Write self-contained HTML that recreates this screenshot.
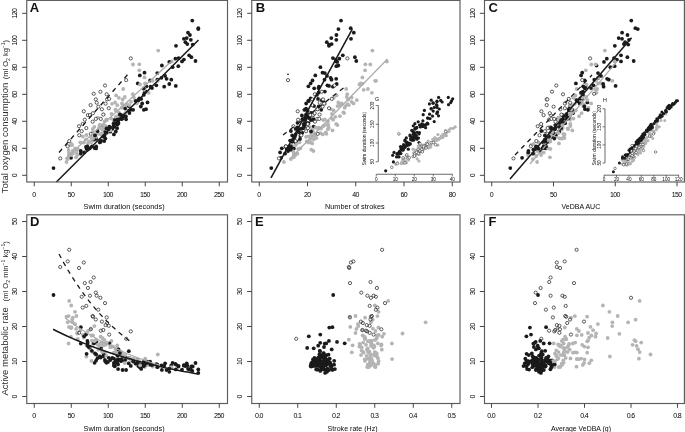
<!DOCTYPE html>
<html><head><meta charset="utf-8"><title>Figure</title>
<style>html,body{margin:0;padding:0;background:#fff}svg{display:block;will-change:transform}text{font-family:"Liberation Sans",sans-serif}</style>
</head><body>
<svg width="685" height="432" viewBox="0 0 685 432" font-family="Liberation Sans, sans-serif">
<rect width="685" height="432" fill="#fff"/>
<g fill="#b4b4b4">
<circle cx="113.8" cy="119.7" r="1.9"/><circle cx="75.1" cy="149.6" r="1.9"/>
</g>
<g fill="#1a1a1a">
<circle cx="187.3" cy="44.1" r="1.9"/><circle cx="96.1" cy="148.4" r="1.9"/><circle cx="71.0" cy="157.8" r="1.9"/>
</g>
<g fill="#b4b4b4">
<circle cx="69.2" cy="153.7" r="1.9"/><circle cx="111.5" cy="113.9" r="1.9"/><circle cx="72.1" cy="145.0" r="1.9"/><circle cx="101.3" cy="134.4" r="1.9"/>
</g>
<g fill="#1a1a1a">
<circle cx="104.5" cy="135.7" r="1.9"/><circle cx="161.4" cy="77.8" r="1.9"/>
</g>
<g fill="#b4b4b4">
<circle cx="72.9" cy="153.5" r="1.9"/>
</g>
<g fill="#1a1a1a">
<circle cx="147.5" cy="102.4" r="1.9"/>
</g>
<g fill="#b4b4b4">
<circle cx="68.6" cy="150.1" r="1.9"/><circle cx="116.1" cy="95.4" r="1.9"/><circle cx="69.0" cy="152.6" r="1.9"/><circle cx="122.0" cy="103.5" r="1.9"/><circle cx="94.4" cy="126.8" r="1.9"/><circle cx="112.0" cy="103.8" r="1.9"/>
</g>
<g fill="#1a1a1a">
<circle cx="146.4" cy="86.3" r="1.9"/><circle cx="128.8" cy="111.0" r="1.9"/><circle cx="99.8" cy="142.4" r="1.9"/>
</g>
<g fill="#b4b4b4">
<circle cx="97.0" cy="133.5" r="1.9"/><circle cx="82.8" cy="136.5" r="1.9"/><circle cx="70.9" cy="145.2" r="1.9"/>
</g>
<g fill="#1a1a1a">
<circle cx="195.5" cy="61.0" r="1.9"/><circle cx="130.8" cy="109.7" r="1.9"/><circle cx="117.5" cy="124.5" r="1.9"/>
</g>
<g fill="#b4b4b4">
<circle cx="76.1" cy="157.3" r="1.9"/><circle cx="91.9" cy="138.3" r="1.9"/><circle cx="77.3" cy="155.0" r="1.9"/>
</g>
<g fill="#1a1a1a">
<circle cx="114.8" cy="119.9" r="1.9"/>
</g>
<g fill="#b4b4b4">
<circle cx="83.9" cy="142.5" r="1.9"/>
</g>
<g fill="#1a1a1a">
<circle cx="106.7" cy="132.8" r="1.9"/>
</g>
<g fill="#b4b4b4">
<circle cx="103.7" cy="129.2" r="1.9"/>
</g>
<g fill="#1a1a1a">
<circle cx="144.5" cy="72.7" r="1.9"/><circle cx="123.8" cy="115.5" r="1.9"/><circle cx="87.4" cy="149.7" r="1.9"/><circle cx="96.1" cy="138.9" r="1.9"/>
</g>
<g fill="#b4b4b4">
<circle cx="66.5" cy="162.0" r="1.9"/><circle cx="125.3" cy="113.1" r="1.9"/><circle cx="96.0" cy="136.8" r="1.9"/>
</g>
<g fill="#1a1a1a">
<circle cx="89.8" cy="148.3" r="1.9"/><circle cx="198.3" cy="29.1" r="1.9"/><circle cx="116.3" cy="123.5" r="1.9"/>
</g>
<g fill="#b4b4b4">
<circle cx="115.8" cy="116.8" r="1.9"/><circle cx="144.7" cy="89.0" r="1.9"/>
</g>
<g fill="#1a1a1a">
<circle cx="84.1" cy="152.4" r="1.9"/>
</g>
<g fill="#b4b4b4">
<circle cx="99.1" cy="127.7" r="1.9"/><circle cx="132.8" cy="94.2" r="1.9"/><circle cx="117.3" cy="105.2" r="1.9"/>
</g>
<g fill="#1a1a1a">
<circle cx="128.7" cy="106.1" r="1.9"/><circle cx="198.3" cy="28.2" r="1.9"/>
</g>
<g fill="#b4b4b4">
<circle cx="145.2" cy="83.6" r="1.9"/>
</g>
<g fill="#1a1a1a">
<circle cx="145.9" cy="91.6" r="1.9"/>
</g>
<g fill="#b4b4b4">
<circle cx="88.0" cy="143.4" r="1.9"/>
</g>
<g fill="#1a1a1a">
<circle cx="175.4" cy="58.7" r="1.9"/>
</g>
<g fill="#b4b4b4">
<circle cx="86.4" cy="135.0" r="1.9"/><circle cx="158.2" cy="50.6" r="1.9"/><circle cx="90.8" cy="136.6" r="1.9"/><circle cx="72.7" cy="151.0" r="1.9"/>
</g>
<g fill="#1a1a1a">
<circle cx="141.2" cy="98.9" r="1.9"/><circle cx="94.6" cy="148.0" r="1.9"/><circle cx="112.3" cy="128.9" r="1.9"/><circle cx="178.6" cy="58.1" r="1.9"/><circle cx="137.4" cy="101.0" r="1.9"/><circle cx="101.1" cy="140.6" r="1.9"/><circle cx="144.5" cy="92.7" r="1.9"/>
</g>
<g fill="#b4b4b4">
<circle cx="99.6" cy="124.9" r="1.9"/><circle cx="145.2" cy="83.5" r="1.9"/><circle cx="136.8" cy="103.4" r="1.9"/><circle cx="113.2" cy="123.9" r="1.9"/><circle cx="104.5" cy="121.3" r="1.9"/>
</g>
<g fill="#1a1a1a">
<circle cx="182.0" cy="61.4" r="1.9"/><circle cx="118.0" cy="117.9" r="1.9"/><circle cx="110.3" cy="131.7" r="1.9"/>
</g>
<g fill="#b4b4b4">
<circle cx="121.6" cy="107.8" r="1.9"/><circle cx="123.2" cy="89.0" r="1.9"/>
</g>
<g fill="#1a1a1a">
<circle cx="169.3" cy="84.0" r="1.9"/><circle cx="113.8" cy="123.2" r="1.9"/><circle cx="118.2" cy="122.8" r="1.9"/><circle cx="113.9" cy="134.4" r="1.9"/><circle cx="191.4" cy="57.2" r="1.9"/>
</g>
<g fill="#b4b4b4">
<circle cx="144.5" cy="77.4" r="1.9"/>
</g>
<g fill="#1a1a1a">
<circle cx="190.8" cy="39.8" r="1.9"/><circle cx="104.9" cy="132.2" r="1.9"/><circle cx="103.3" cy="127.5" r="1.9"/>
</g>
<g fill="#b4b4b4">
<circle cx="118.9" cy="97.8" r="1.9"/>
</g>
<g fill="#1a1a1a">
<circle cx="143.8" cy="94.9" r="1.9"/><circle cx="86.6" cy="148.7" r="1.9"/>
</g>
<g fill="#b4b4b4">
<circle cx="92.8" cy="128.9" r="1.9"/><circle cx="75.0" cy="148.3" r="1.9"/>
</g>
<g fill="#1a1a1a">
<circle cx="125.9" cy="116.5" r="1.9"/><circle cx="164.2" cy="86.7" r="1.9"/>
</g>
<g fill="#b4b4b4">
<circle cx="99.4" cy="133.8" r="1.9"/>
</g>
<g fill="#1a1a1a">
<circle cx="122.6" cy="118.1" r="1.9"/>
</g>
<g fill="#b4b4b4">
<circle cx="104.7" cy="127.9" r="1.9"/>
</g>
<g fill="#1a1a1a">
<circle cx="172.6" cy="67.2" r="1.9"/><circle cx="156.3" cy="85.3" r="1.9"/>
</g>
<g fill="#b4b4b4">
<circle cx="127.1" cy="104.2" r="1.9"/>
</g>
<g fill="#1a1a1a">
<circle cx="109.3" cy="126.7" r="1.9"/><circle cx="157.3" cy="73.1" r="1.9"/>
</g>
<g fill="#b4b4b4">
<circle cx="92.7" cy="132.0" r="1.9"/><circle cx="101.7" cy="128.5" r="1.9"/><circle cx="123.0" cy="106.1" r="1.9"/>
</g>
<g fill="#1a1a1a">
<circle cx="183.9" cy="59.6" r="1.9"/><circle cx="122.9" cy="116.9" r="1.9"/>
</g>
<g fill="#b4b4b4">
<circle cx="133.0" cy="64.5" r="1.9"/><circle cx="105.4" cy="126.0" r="1.9"/>
</g>
<g fill="#1a1a1a">
<circle cx="104.2" cy="141.1" r="1.9"/>
</g>
<g fill="#b4b4b4">
<circle cx="80.3" cy="142.3" r="1.9"/><circle cx="117.2" cy="116.2" r="1.9"/><circle cx="102.3" cy="129.5" r="1.9"/>
</g>
<g fill="#1a1a1a">
<circle cx="165.1" cy="75.9" r="1.9"/>
</g>
<g fill="#b4b4b4">
<circle cx="98.3" cy="132.5" r="1.9"/><circle cx="125.1" cy="106.1" r="1.9"/>
</g>
<g fill="#1a1a1a">
<circle cx="176.0" cy="45.8" r="1.9"/>
</g>
<g fill="#b4b4b4">
<circle cx="144.0" cy="89.8" r="1.9"/><circle cx="91.1" cy="141.7" r="1.9"/>
</g>
<g fill="#1a1a1a">
<circle cx="171.3" cy="79.7" r="1.9"/>
</g>
<g fill="#b4b4b4">
<circle cx="71.2" cy="155.1" r="1.9"/><circle cx="103.6" cy="114.3" r="1.9"/>
</g>
<g fill="#1a1a1a">
<circle cx="118.1" cy="119.9" r="1.9"/>
</g>
<g fill="#b4b4b4">
<circle cx="106.8" cy="120.0" r="1.9"/><circle cx="139.3" cy="70.3" r="1.9"/>
</g>
<g fill="#1a1a1a">
<circle cx="150.1" cy="80.5" r="1.9"/><circle cx="157.3" cy="79.7" r="1.9"/>
</g>
<g fill="#b4b4b4">
<circle cx="77.8" cy="148.9" r="1.9"/>
</g>
<g fill="#1a1a1a">
<circle cx="183.9" cy="38.8" r="1.9"/><circle cx="106.5" cy="128.5" r="1.9"/>
</g>
<g fill="#b4b4b4">
<circle cx="171.7" cy="61.5" r="1.9"/><circle cx="137.3" cy="100.1" r="1.9"/>
</g>
<g fill="#1a1a1a">
<circle cx="129.4" cy="113.0" r="1.9"/><circle cx="189.9" cy="35.0" r="1.9"/>
</g>
<g fill="#b4b4b4">
<circle cx="131.0" cy="101.8" r="1.9"/><circle cx="67.7" cy="159.1" r="1.9"/><circle cx="122.7" cy="99.5" r="1.9"/>
</g>
<g fill="#1a1a1a">
<circle cx="94.0" cy="139.7" r="1.9"/><circle cx="161.9" cy="65.5" r="1.9"/><circle cx="115.8" cy="131.5" r="1.9"/>
</g>
<g fill="#b4b4b4">
<circle cx="97.7" cy="117.6" r="1.9"/><circle cx="148.7" cy="92.8" r="1.9"/>
</g>
<g fill="#1a1a1a">
<circle cx="118.1" cy="123.3" r="1.9"/>
</g>
<g fill="#b4b4b4">
<circle cx="85.8" cy="139.6" r="1.9"/><circle cx="118.8" cy="112.3" r="1.9"/>
</g>
<g fill="#1a1a1a">
<circle cx="114.5" cy="126.8" r="1.9"/><circle cx="116.8" cy="120.0" r="1.9"/><circle cx="150.5" cy="86.7" r="1.9"/>
</g>
<g fill="#b4b4b4">
<circle cx="115.1" cy="102.5" r="1.9"/><circle cx="94.3" cy="135.1" r="1.9"/><circle cx="129.4" cy="105.1" r="1.9"/>
</g>
<g fill="#1a1a1a">
<circle cx="105.4" cy="138.6" r="1.9"/>
</g>
<g fill="#b4b4b4">
<circle cx="152.7" cy="80.8" r="1.9"/>
</g>
<g fill="#1a1a1a">
<circle cx="135.5" cy="100.8" r="1.9"/><circle cx="97.5" cy="131.0" r="1.9"/><circle cx="188.0" cy="32.7" r="1.9"/><circle cx="125.2" cy="108.6" r="1.9"/><circle cx="152.0" cy="88.1" r="1.9"/>
</g>
<g fill="#b4b4b4">
<circle cx="77.2" cy="149.7" r="1.9"/>
</g>
<g fill="#1a1a1a">
<circle cx="119.9" cy="114.4" r="1.9"/>
</g>
<g fill="#b4b4b4">
<circle cx="111.2" cy="118.6" r="1.9"/>
</g>
<g fill="#1a1a1a">
<circle cx="166.6" cy="78.8" r="1.9"/><circle cx="186.7" cy="38.1" r="1.9"/><circle cx="138.4" cy="100.2" r="1.9"/><circle cx="80.8" cy="151.0" r="1.9"/><circle cx="192.7" cy="44.6" r="1.9"/><circle cx="143.8" cy="109.8" r="1.9"/>
</g>
<g fill="#b4b4b4">
<circle cx="100.6" cy="124.8" r="1.9"/>
</g>
<g fill="#1a1a1a">
<circle cx="139.8" cy="75.4" r="1.9"/><circle cx="108.0" cy="128.9" r="1.9"/>
</g>
<g fill="#b4b4b4">
<circle cx="88.9" cy="141.5" r="1.9"/><circle cx="100.9" cy="127.5" r="1.9"/><circle cx="76.4" cy="152.4" r="1.9"/><circle cx="71.3" cy="143.9" r="1.9"/>
</g>
<g fill="#1a1a1a">
<circle cx="189.1" cy="55.3" r="1.9"/><circle cx="103.4" cy="136.7" r="1.9"/><circle cx="133.1" cy="109.8" r="1.9"/><circle cx="185.4" cy="42.2" r="1.9"/><circle cx="87.7" cy="149.0" r="1.9"/><circle cx="113.9" cy="125.1" r="1.9"/><circle cx="139.3" cy="98.5" r="1.9"/>
</g>
<g fill="#b4b4b4">
<circle cx="133.9" cy="97.6" r="1.9"/><circle cx="110.3" cy="130.4" r="1.9"/><circle cx="139.3" cy="64.3" r="1.9"/><circle cx="106.3" cy="119.5" r="1.9"/>
</g>
<g fill="#1a1a1a">
<circle cx="86.0" cy="147.0" r="1.9"/>
</g>
<g fill="#b4b4b4">
<circle cx="68.7" cy="156.0" r="1.9"/>
</g>
<g fill="#1a1a1a">
<circle cx="53.5" cy="168.1" r="1.9"/><circle cx="121.0" cy="115.0" r="1.9"/><circle cx="140.8" cy="106.5" r="1.9"/><circle cx="91.9" cy="146.4" r="1.9"/>
</g>
<g fill="#b4b4b4">
<circle cx="115.7" cy="110.5" r="1.9"/>
</g>
<g fill="#1a1a1a">
<circle cx="175.8" cy="85.9" r="1.9"/><circle cx="143.6" cy="88.3" r="1.9"/><circle cx="121.6" cy="119.2" r="1.9"/><circle cx="142.2" cy="103.5" r="1.9"/>
</g>
<g fill="#b4b4b4">
<circle cx="91.4" cy="142.1" r="1.9"/>
</g>
<g fill="#1a1a1a">
<circle cx="118.5" cy="120.1" r="1.9"/><circle cx="192.3" cy="20.6" r="1.9"/><circle cx="80.8" cy="153.7" r="1.9"/><circle cx="88.8" cy="148.7" r="1.9"/><circle cx="137.8" cy="83.4" r="1.9"/><circle cx="146.0" cy="109.2" r="1.9"/><circle cx="118.5" cy="123.1" r="1.9"/>
</g>
<g fill="#b4b4b4">
<circle cx="93.0" cy="138.7" r="1.9"/><circle cx="140.1" cy="84.5" r="1.9"/>
</g>
<g fill="#1a1a1a">
<circle cx="108.8" cy="129.1" r="1.9"/>
</g>
<g fill="#b4b4b4">
<circle cx="115.6" cy="109.3" r="1.9"/>
</g>
<g fill="#1a1a1a">
<circle cx="178.3" cy="66.2" r="1.9"/>
</g>
<g fill="#b4b4b4">
<circle cx="103.9" cy="125.1" r="1.9"/>
</g>
<g fill="#1a1a1a">
<circle cx="87.3" cy="146.3" r="1.9"/>
</g>
<g fill="#b4b4b4">
<circle cx="124.8" cy="97.0" r="1.9"/>
</g>
<g fill="#1a1a1a">
<circle cx="117.1" cy="128.2" r="1.9"/><circle cx="96.2" cy="146.5" r="1.9"/><circle cx="169.3" cy="61.9" r="1.9"/><circle cx="126.1" cy="119.3" r="1.9"/>
</g>
<g fill="#b4b4b4">
<circle cx="157.8" cy="80.8" r="1.9"/><circle cx="91.5" cy="138.0" r="1.9"/>
</g>
<g fill="#1a1a1a">
<circle cx="100.6" cy="141.7" r="1.9"/><circle cx="95.0" cy="135.4" r="1.9"/>
</g>
<g fill="#b4b4b4">
<circle cx="102.2" cy="133.1" r="1.9"/>
</g>
<g fill="#fff" stroke="#2a2a2a" stroke-width="0.75">
<circle cx="69.2" cy="141.1" r="1.6"/><circle cx="67.7" cy="146.3" r="1.6"/><circle cx="83.8" cy="111.3" r="1.6"/><circle cx="60.2" cy="158.4" r="1.6"/><circle cx="79.0" cy="126.2" r="1.6"/><circle cx="93.7" cy="93.8" r="1.6"/><circle cx="90.6" cy="105.1" r="1.6"/><circle cx="84.8" cy="119.7" r="1.6"/><circle cx="87.9" cy="115.1" r="1.6"/><circle cx="95.8" cy="99.4" r="1.6"/><circle cx="90.0" cy="115.1" r="1.6"/><circle cx="96.7" cy="102.7" r="1.6"/><circle cx="81.7" cy="131.2" r="1.6"/><circle cx="100.4" cy="91.7" r="1.6"/><circle cx="105.0" cy="85.5" r="1.6"/><circle cx="86.3" cy="128.1" r="1.6"/><circle cx="82.7" cy="124.0" r="1.6"/><circle cx="98.3" cy="106.7" r="1.6"/><circle cx="92.7" cy="121.7" r="1.6"/><circle cx="92.9" cy="113.2" r="1.6"/><circle cx="106.7" cy="94.3" r="1.6"/><circle cx="95.8" cy="118.9" r="1.6"/><circle cx="101.9" cy="109.3" r="1.6"/><circle cx="107.1" cy="99.4" r="1.6"/><circle cx="105.6" cy="103.6" r="1.6"/><circle cx="108.8" cy="108.2" r="1.6"/><circle cx="90.8" cy="133.9" r="1.6"/><circle cx="103.3" cy="114.6" r="1.6"/><circle cx="100.8" cy="118.9" r="1.6"/><circle cx="130.8" cy="58.4" r="1.6"/><circle cx="79.2" cy="135.3" r="1.6"/><circle cx="109.2" cy="98.9" r="1.6"/><circle cx="126.2" cy="80.1" r="1.6"/>
</g>
<polyline points="56.4,182.0 198.5,40.0" fill="none" stroke="#1a1a1a" stroke-width="1.55"/>
<polyline points="65.0,159.0 172.6,60.3" fill="none" stroke="#aaa" stroke-width="1.2"/>
<polyline points="59.0,152.5 129.0,73.0" fill="none" stroke="#1a1a1a" stroke-width="1.3" stroke-dasharray="4.6 4.4"/>
<rect x="26.75" y="0.4" width="200.75" height="181.6" fill="none" stroke="#5c5c5c" stroke-width="1.15"/>
<line x1="34.25" y1="182" x2="34.25" y2="186.3" stroke="#444" stroke-width="1"/>
<text x="33.90" y="196.5" font-size="7" text-anchor="middle" letter-spacing="-0.7" fill="#000">0</text>
<line x1="71.25" y1="182" x2="71.25" y2="186.3" stroke="#444" stroke-width="1"/>
<text x="70.90" y="196.5" font-size="7" text-anchor="middle" letter-spacing="-0.7" fill="#000">50</text>
<line x1="108.25" y1="182" x2="108.25" y2="186.3" stroke="#444" stroke-width="1"/>
<text x="107.90" y="196.5" font-size="7" text-anchor="middle" letter-spacing="-0.7" fill="#000">100</text>
<line x1="145.25" y1="182" x2="145.25" y2="186.3" stroke="#444" stroke-width="1"/>
<text x="144.90" y="196.5" font-size="7" text-anchor="middle" letter-spacing="-0.7" fill="#000">150</text>
<line x1="182.25" y1="182" x2="182.25" y2="186.3" stroke="#444" stroke-width="1"/>
<text x="181.90" y="196.5" font-size="7" text-anchor="middle" letter-spacing="-0.7" fill="#000">200</text>
<line x1="219.25" y1="182" x2="219.25" y2="186.3" stroke="#444" stroke-width="1"/>
<text x="218.90" y="196.5" font-size="7" text-anchor="middle" letter-spacing="-0.7" fill="#000">250</text>
<line x1="22.15" y1="175.30" x2="26.75" y2="175.30" stroke="#444" stroke-width="1"/>
<text x="16.65" y="175.30" font-size="7" text-anchor="middle" letter-spacing="-0.7" fill="#000" transform="rotate(-90 17 175.30)">0</text>
<line x1="22.15" y1="148.30" x2="26.75" y2="148.30" stroke="#444" stroke-width="1"/>
<text x="16.65" y="148.30" font-size="7" text-anchor="middle" letter-spacing="-0.7" fill="#000" transform="rotate(-90 17 148.30)">20</text>
<line x1="22.15" y1="121.30" x2="26.75" y2="121.30" stroke="#444" stroke-width="1"/>
<text x="16.65" y="121.30" font-size="7" text-anchor="middle" letter-spacing="-0.7" fill="#000" transform="rotate(-90 17 121.30)">40</text>
<line x1="22.15" y1="94.30" x2="26.75" y2="94.30" stroke="#444" stroke-width="1"/>
<text x="16.65" y="94.30" font-size="7" text-anchor="middle" letter-spacing="-0.7" fill="#000" transform="rotate(-90 17 94.30)">60</text>
<line x1="22.15" y1="67.30" x2="26.75" y2="67.30" stroke="#444" stroke-width="1"/>
<text x="16.65" y="67.30" font-size="7" text-anchor="middle" letter-spacing="-0.7" fill="#000" transform="rotate(-90 17 67.30)">80</text>
<line x1="22.15" y1="40.30" x2="26.75" y2="40.30" stroke="#444" stroke-width="1"/>
<text x="16.65" y="40.30" font-size="7" text-anchor="middle" letter-spacing="-0.7" fill="#000" transform="rotate(-90 17 40.30)">100</text>
<line x1="22.15" y1="13.30" x2="26.75" y2="13.30" stroke="#444" stroke-width="1"/>
<text x="16.65" y="13.30" font-size="7" text-anchor="middle" letter-spacing="-0.7" fill="#000" transform="rotate(-90 17 13.30)">120</text>
<text x="124.1" y="208.8" font-size="8" text-anchor="middle" textLength="81" lengthAdjust="spacingAndGlyphs" fill="#0a0a0a">Swim duration (seconds)</text>
<text x="29.7" y="11.6" font-size="13" text-anchor="start" font-weight="bold" fill="#111">A</text>
<g fill="#b4b4b4">
<circle cx="333.2" cy="119.7" r="1.9"/><circle cx="293.3" cy="149.6" r="1.9"/>
</g>
<g fill="#1a1a1a">
<circle cx="331.6" cy="44.1" r="1.9"/><circle cx="293.8" cy="148.4" r="1.9"/><circle cx="281.0" cy="157.8" r="1.9"/>
</g>
<g fill="#b4b4b4">
<circle cx="297.4" cy="153.7" r="1.9"/><circle cx="331.9" cy="113.9" r="1.9"/><circle cx="295.6" cy="145.0" r="1.9"/><circle cx="322.7" cy="134.4" r="1.9"/>
</g>
<g fill="#1a1a1a">
<circle cx="300.4" cy="135.7" r="1.9"/><circle cx="330.7" cy="77.8" r="1.9"/>
</g>
<g fill="#b4b4b4">
<circle cx="293.9" cy="153.5" r="1.9"/>
</g>
<g fill="#1a1a1a">
<circle cx="324.1" cy="102.4" r="1.9"/>
</g>
<g fill="#b4b4b4">
<circle cx="291.8" cy="150.1" r="1.9"/><circle cx="336.6" cy="95.4" r="1.9"/><circle cx="286.0" cy="152.6" r="1.9"/><circle cx="341.7" cy="103.5" r="1.9"/><circle cx="309.7" cy="126.8" r="1.9"/><circle cx="325.1" cy="103.8" r="1.9"/>
</g>
<g fill="#1a1a1a">
<circle cx="308.4" cy="86.3" r="1.9"/><circle cx="307.7" cy="111.0" r="1.9"/><circle cx="295.9" cy="142.4" r="1.9"/>
</g>
<g fill="#b4b4b4">
<circle cx="317.1" cy="133.5" r="1.9"/><circle cx="308.4" cy="136.5" r="1.9"/><circle cx="291.8" cy="145.2" r="1.9"/>
</g>
<g fill="#1a1a1a">
<circle cx="356.3" cy="61.0" r="1.9"/><circle cx="305.8" cy="109.7" r="1.9"/><circle cx="303.7" cy="124.5" r="1.9"/>
</g>
<g fill="#b4b4b4">
<circle cx="293.7" cy="157.3" r="1.9"/><circle cx="314.1" cy="138.3" r="1.9"/><circle cx="294.3" cy="155.0" r="1.9"/>
</g>
<g fill="#1a1a1a">
<circle cx="303.0" cy="119.9" r="1.9"/>
</g>
<g fill="#b4b4b4">
<circle cx="308.7" cy="142.5" r="1.9"/>
</g>
<g fill="#1a1a1a">
<circle cx="302.3" cy="132.8" r="1.9"/>
</g>
<g fill="#b4b4b4">
<circle cx="327.9" cy="129.2" r="1.9"/>
</g>
<g fill="#1a1a1a">
<circle cx="322.5" cy="72.7" r="1.9"/><circle cx="301.9" cy="115.5" r="1.9"/><circle cx="290.6" cy="149.7" r="1.9"/><circle cx="300.0" cy="138.9" r="1.9"/>
</g>
<g fill="#b4b4b4">
<circle cx="283.9" cy="162.0" r="1.9"/><circle cx="344.1" cy="113.1" r="1.9"/><circle cx="306.1" cy="136.8" r="1.9"/>
</g>
<g fill="#1a1a1a">
<circle cx="281.8" cy="148.3" r="1.9"/><circle cx="338.4" cy="29.1" r="1.9"/><circle cx="304.4" cy="123.5" r="1.9"/>
</g>
<g fill="#b4b4b4">
<circle cx="335.3" cy="116.8" r="1.9"/><circle cx="367.9" cy="89.0" r="1.9"/>
</g>
<g fill="#1a1a1a">
<circle cx="280.1" cy="152.4" r="1.9"/>
</g>
<g fill="#b4b4b4">
<circle cx="318.8" cy="127.7" r="1.9"/><circle cx="347.2" cy="94.2" r="1.9"/><circle cx="339.6" cy="105.2" r="1.9"/>
</g>
<g fill="#1a1a1a">
<circle cx="314.0" cy="106.1" r="1.9"/><circle cx="350.7" cy="28.2" r="1.9"/>
</g>
<g fill="#b4b4b4">
<circle cx="362.4" cy="83.6" r="1.9"/>
</g>
<g fill="#1a1a1a">
<circle cx="324.8" cy="91.6" r="1.9"/>
</g>
<g fill="#b4b4b4">
<circle cx="312.2" cy="143.4" r="1.9"/>
</g>
<g fill="#1a1a1a">
<circle cx="339.4" cy="58.7" r="1.9"/>
</g>
<g fill="#b4b4b4">
<circle cx="311.2" cy="135.0" r="1.9"/><circle cx="372.4" cy="50.6" r="1.9"/><circle cx="313.7" cy="136.6" r="1.9"/><circle cx="313.4" cy="151.0" r="1.9"/>
</g>
<g fill="#1a1a1a">
<circle cx="318.0" cy="98.9" r="1.9"/><circle cx="291.3" cy="148.0" r="1.9"/><circle cx="295.7" cy="128.9" r="1.9"/><circle cx="332.9" cy="58.1" r="1.9"/><circle cx="308.8" cy="101.0" r="1.9"/><circle cx="290.1" cy="140.6" r="1.9"/><circle cx="318.7" cy="92.7" r="1.9"/>
</g>
<g fill="#b4b4b4">
<circle cx="326.9" cy="124.9" r="1.9"/><circle cx="360.6" cy="83.5" r="1.9"/><circle cx="353.6" cy="103.4" r="1.9"/><circle cx="336.2" cy="123.9" r="1.9"/><circle cx="328.0" cy="121.3" r="1.9"/>
</g>
<g fill="#1a1a1a">
<circle cx="336.4" cy="61.4" r="1.9"/><circle cx="305.8" cy="117.9" r="1.9"/><circle cx="298.0" cy="131.7" r="1.9"/>
</g>
<g fill="#b4b4b4">
<circle cx="344.7" cy="107.8" r="1.9"/><circle cx="346.2" cy="89.0" r="1.9"/>
</g>
<g fill="#1a1a1a">
<circle cx="336.7" cy="84.0" r="1.9"/><circle cx="306.7" cy="123.2" r="1.9"/><circle cx="297.5" cy="122.8" r="1.9"/><circle cx="295.6" cy="134.4" r="1.9"/><circle cx="354.9" cy="57.2" r="1.9"/>
</g>
<g fill="#b4b4b4">
<circle cx="362.4" cy="77.4" r="1.9"/>
</g>
<g fill="#1a1a1a">
<circle cx="336.3" cy="39.8" r="1.9"/><circle cx="299.0" cy="132.2" r="1.9"/><circle cx="297.4" cy="127.5" r="1.9"/>
</g>
<g fill="#b4b4b4">
<circle cx="333.8" cy="97.8" r="1.9"/>
</g>
<g fill="#1a1a1a">
<circle cx="316.9" cy="94.9" r="1.9"/><circle cx="287.6" cy="148.7" r="1.9"/>
</g>
<g fill="#b4b4b4">
<circle cx="318.0" cy="128.9" r="1.9"/><circle cx="300.4" cy="148.3" r="1.9"/>
</g>
<g fill="#1a1a1a">
<circle cx="308.2" cy="116.5" r="1.9"/><circle cx="318.9" cy="86.7" r="1.9"/>
</g>
<g fill="#b4b4b4">
<circle cx="326.4" cy="133.8" r="1.9"/>
</g>
<g fill="#1a1a1a">
<circle cx="308.9" cy="118.1" r="1.9"/>
</g>
<g fill="#b4b4b4">
<circle cx="328.8" cy="127.9" r="1.9"/>
</g>
<g fill="#1a1a1a">
<circle cx="320.4" cy="67.2" r="1.9"/><circle cx="327.4" cy="85.3" r="1.9"/>
</g>
<g fill="#b4b4b4">
<circle cx="347.3" cy="104.2" r="1.9"/>
</g>
<g fill="#1a1a1a">
<circle cx="313.6" cy="126.7" r="1.9"/><circle cx="324.8" cy="73.1" r="1.9"/>
</g>
<g fill="#b4b4b4">
<circle cx="313.1" cy="132.0" r="1.9"/><circle cx="321.1" cy="128.5" r="1.9"/><circle cx="345.3" cy="106.1" r="1.9"/>
</g>
<g fill="#1a1a1a">
<circle cx="335.8" cy="59.6" r="1.9"/><circle cx="310.2" cy="116.9" r="1.9"/>
</g>
<g fill="#b4b4b4">
<circle cx="370.3" cy="64.5" r="1.9"/><circle cx="323.5" cy="126.0" r="1.9"/>
</g>
<g fill="#1a1a1a">
<circle cx="298.9" cy="141.1" r="1.9"/>
</g>
<g fill="#b4b4b4">
<circle cx="299.4" cy="142.3" r="1.9"/><circle cx="339.9" cy="116.2" r="1.9"/><circle cx="312.6" cy="129.5" r="1.9"/>
</g>
<g fill="#1a1a1a">
<circle cx="327.0" cy="75.9" r="1.9"/>
</g>
<g fill="#b4b4b4">
<circle cx="325.8" cy="132.5" r="1.9"/><circle cx="337.5" cy="106.1" r="1.9"/>
</g>
<g fill="#1a1a1a">
<circle cx="329.0" cy="45.8" r="1.9"/>
</g>
<g fill="#b4b4b4">
<circle cx="363.7" cy="89.8" r="1.9"/><circle cx="308.5" cy="141.7" r="1.9"/>
</g>
<g fill="#1a1a1a">
<circle cx="331.5" cy="79.7" r="1.9"/>
</g>
<g fill="#b4b4b4">
<circle cx="295.4" cy="155.1" r="1.9"/><circle cx="314.1" cy="114.3" r="1.9"/>
</g>
<g fill="#1a1a1a">
<circle cx="312.9" cy="119.9" r="1.9"/>
</g>
<g fill="#b4b4b4">
<circle cx="323.1" cy="120.0" r="1.9"/><circle cx="365.1" cy="70.3" r="1.9"/>
</g>
<g fill="#1a1a1a">
<circle cx="312.5" cy="80.5" r="1.9"/><circle cx="324.5" cy="79.7" r="1.9"/>
</g>
<g fill="#b4b4b4">
<circle cx="298.2" cy="148.9" r="1.9"/>
</g>
<g fill="#1a1a1a">
<circle cx="351.0" cy="38.8" r="1.9"/><circle cx="302.2" cy="128.5" r="1.9"/>
</g>
<g fill="#b4b4b4">
<circle cx="386.9" cy="61.5" r="1.9"/><circle cx="356.8" cy="100.1" r="1.9"/>
</g>
<g fill="#1a1a1a">
<circle cx="311.2" cy="113.0" r="1.9"/><circle cx="336.4" cy="35.0" r="1.9"/>
</g>
<g fill="#b4b4b4">
<circle cx="351.6" cy="101.8" r="1.9"/><circle cx="290.9" cy="159.1" r="1.9"/><circle cx="348.2" cy="99.5" r="1.9"/>
</g>
<g fill="#1a1a1a">
<circle cx="293.1" cy="139.7" r="1.9"/><circle cx="338.3" cy="65.5" r="1.9"/><circle cx="311.0" cy="131.5" r="1.9"/>
</g>
<g fill="#b4b4b4">
<circle cx="313.3" cy="117.6" r="1.9"/><circle cx="371.9" cy="92.8" r="1.9"/>
</g>
<g fill="#1a1a1a">
<circle cx="307.6" cy="123.3" r="1.9"/>
</g>
<g fill="#b4b4b4">
<circle cx="313.7" cy="139.6" r="1.9"/><circle cx="343.4" cy="112.3" r="1.9"/>
</g>
<g fill="#1a1a1a">
<circle cx="304.1" cy="126.8" r="1.9"/><circle cx="305.3" cy="120.0" r="1.9"/><circle cx="332.9" cy="86.7" r="1.9"/>
</g>
<g fill="#b4b4b4">
<circle cx="338.4" cy="102.5" r="1.9"/><circle cx="314.7" cy="135.1" r="1.9"/><circle cx="348.8" cy="105.1" r="1.9"/>
</g>
<g fill="#1a1a1a">
<circle cx="294.0" cy="138.6" r="1.9"/>
</g>
<g fill="#b4b4b4">
<circle cx="375.1" cy="80.8" r="1.9"/>
</g>
<g fill="#1a1a1a">
<circle cx="308.3" cy="100.8" r="1.9"/><circle cx="290.9" cy="131.0" r="1.9"/><circle cx="353.8" cy="32.7" r="1.9"/><circle cx="306.0" cy="108.6" r="1.9"/><circle cx="318.5" cy="88.1" r="1.9"/>
</g>
<g fill="#b4b4b4">
<circle cx="311.3" cy="149.7" r="1.9"/>
</g>
<g fill="#1a1a1a">
<circle cx="306.1" cy="114.4" r="1.9"/>
</g>
<g fill="#b4b4b4">
<circle cx="332.0" cy="118.6" r="1.9"/>
</g>
<g fill="#1a1a1a">
<circle cx="336.2" cy="78.8" r="1.9"/><circle cx="331.3" cy="38.1" r="1.9"/><circle cx="321.9" cy="100.2" r="1.9"/><circle cx="288.1" cy="151.0" r="1.9"/><circle cx="329.0" cy="44.6" r="1.9"/><circle cx="321.2" cy="109.8" r="1.9"/>
</g>
<g fill="#b4b4b4">
<circle cx="328.3" cy="124.8" r="1.9"/>
</g>
<g fill="#1a1a1a">
<circle cx="315.3" cy="75.4" r="1.9"/><circle cx="300.4" cy="128.9" r="1.9"/>
</g>
<g fill="#b4b4b4">
<circle cx="306.7" cy="141.5" r="1.9"/><circle cx="315.9" cy="127.5" r="1.9"/><circle cx="293.6" cy="152.4" r="1.9"/><circle cx="296.6" cy="143.9" r="1.9"/>
</g>
<g fill="#1a1a1a">
<circle cx="342.8" cy="55.3" r="1.9"/><circle cx="294.9" cy="136.7" r="1.9"/><circle cx="304.4" cy="109.8" r="1.9"/><circle cx="326.8" cy="42.2" r="1.9"/><circle cx="286.8" cy="149.0" r="1.9"/><circle cx="304.9" cy="125.1" r="1.9"/><circle cx="310.6" cy="98.5" r="1.9"/>
</g>
<g fill="#b4b4b4">
<circle cx="351.6" cy="97.6" r="1.9"/><circle cx="332.5" cy="130.4" r="1.9"/><circle cx="365.4" cy="64.3" r="1.9"/><circle cx="324.8" cy="119.5" r="1.9"/>
</g>
<g fill="#1a1a1a">
<circle cx="286.0" cy="147.0" r="1.9"/>
</g>
<g fill="#b4b4b4">
<circle cx="293.7" cy="156.0" r="1.9"/>
</g>
<g fill="#1a1a1a">
<circle cx="271.3" cy="168.1" r="1.9"/><circle cx="308.8" cy="115.0" r="1.9"/><circle cx="318.7" cy="106.5" r="1.9"/><circle cx="288.8" cy="146.4" r="1.9"/>
</g>
<g fill="#b4b4b4">
<circle cx="333.6" cy="110.5" r="1.9"/>
</g>
<g fill="#1a1a1a">
<circle cx="329.0" cy="85.9" r="1.9"/><circle cx="314.2" cy="88.3" r="1.9"/><circle cx="302.4" cy="119.2" r="1.9"/><circle cx="306.2" cy="103.5" r="1.9"/>
</g>
<g fill="#b4b4b4">
<circle cx="310.5" cy="142.1" r="1.9"/>
</g>
<g fill="#1a1a1a">
<circle cx="310.9" cy="120.1" r="1.9"/><circle cx="341.0" cy="20.6" r="1.9"/><circle cx="285.0" cy="153.7" r="1.9"/><circle cx="289.2" cy="148.7" r="1.9"/><circle cx="310.6" cy="83.4" r="1.9"/><circle cx="317.1" cy="109.2" r="1.9"/><circle cx="308.6" cy="123.1" r="1.9"/>
</g>
<g fill="#b4b4b4">
<circle cx="310.8" cy="138.7" r="1.9"/><circle cx="359.5" cy="84.5" r="1.9"/>
</g>
<g fill="#1a1a1a">
<circle cx="297.7" cy="129.1" r="1.9"/>
</g>
<g fill="#b4b4b4">
<circle cx="331.1" cy="109.3" r="1.9"/>
</g>
<g fill="#1a1a1a">
<circle cx="336.3" cy="66.2" r="1.9"/>
</g>
<g fill="#b4b4b4">
<circle cx="337.4" cy="125.1" r="1.9"/>
</g>
<g fill="#1a1a1a">
<circle cx="285.7" cy="146.3" r="1.9"/>
</g>
<g fill="#b4b4b4">
<circle cx="346.8" cy="97.0" r="1.9"/>
</g>
<g fill="#1a1a1a">
<circle cx="303.3" cy="128.2" r="1.9"/><circle cx="290.8" cy="146.5" r="1.9"/><circle cx="337.2" cy="61.9" r="1.9"/><circle cx="313.5" cy="119.3" r="1.9"/>
</g>
<g fill="#b4b4b4">
<circle cx="376.1" cy="80.8" r="1.9"/><circle cx="316.4" cy="138.0" r="1.9"/>
</g>
<g fill="#1a1a1a">
<circle cx="292.4" cy="141.7" r="1.9"/><circle cx="292.2" cy="135.4" r="1.9"/>
</g>
<g fill="#b4b4b4">
<circle cx="320.3" cy="133.1" r="1.9"/>
</g>
<g fill="#fff" stroke="#2a2a2a" stroke-width="0.75">
<circle cx="295.6" cy="141.1" r="1.6"/><circle cx="285.9" cy="146.3" r="1.6"/><circle cx="297.7" cy="111.3" r="1.6"/><circle cx="278.9" cy="158.4" r="1.6"/><circle cx="293.4" cy="126.2" r="1.6"/><circle cx="312.3" cy="105.1" r="1.6"/><circle cx="298.1" cy="119.7" r="1.6"/><circle cx="312.7" cy="115.1" r="1.6"/><circle cx="312.4" cy="99.4" r="1.6"/><circle cx="310.3" cy="115.1" r="1.6"/><circle cx="319.7" cy="102.7" r="1.6"/><circle cx="306.1" cy="131.2" r="1.6"/><circle cx="321.8" cy="91.7" r="1.6"/><circle cx="334.6" cy="85.5" r="1.6"/><circle cx="307.9" cy="128.1" r="1.6"/><circle cx="307.8" cy="124.0" r="1.6"/><circle cx="322.6" cy="106.7" r="1.6"/><circle cx="315.0" cy="121.7" r="1.6"/><circle cx="314.7" cy="113.2" r="1.6"/><circle cx="314.9" cy="94.3" r="1.6"/><circle cx="317.3" cy="118.9" r="1.6"/><circle cx="317.5" cy="109.3" r="1.6"/><circle cx="323.1" cy="99.4" r="1.6"/><circle cx="324.1" cy="103.6" r="1.6"/><circle cx="329.0" cy="108.2" r="1.6"/><circle cx="317.7" cy="133.9" r="1.6"/><circle cx="319.6" cy="114.6" r="1.6"/><circle cx="319.3" cy="118.9" r="1.6"/><circle cx="347.4" cy="58.4" r="1.6"/><circle cx="301.3" cy="135.3" r="1.6"/><circle cx="331.8" cy="98.9" r="1.6"/><circle cx="288.0" cy="80.1" r="1.6"/>
</g>
<polyline points="271.0,177.8 352.3,29.2" fill="none" stroke="#1a1a1a" stroke-width="1.55"/>
<polyline points="290.0,159.0 387.5,59.0" fill="none" stroke="#aaa" stroke-width="1.2"/>
<polyline points="283.0,135.0 344.8,87.0" fill="none" stroke="#1a1a1a" stroke-width="1.3" stroke-dasharray="4.6 4.4"/>
<ellipse cx="288" cy="74.3" rx="1.1" ry="0.8" fill="#333"/>
<rect x="251.75" y="0.4" width="208.25" height="181.6" fill="none" stroke="#5c5c5c" stroke-width="1.15"/>
<line x1="259.25" y1="182" x2="259.25" y2="186.3" stroke="#444" stroke-width="1"/>
<text x="258.90" y="196.5" font-size="7" text-anchor="middle" letter-spacing="-0.7" fill="#000">0</text>
<line x1="307.50" y1="182" x2="307.50" y2="186.3" stroke="#444" stroke-width="1"/>
<text x="307.15" y="196.5" font-size="7" text-anchor="middle" letter-spacing="-0.7" fill="#000">20</text>
<line x1="355.75" y1="182" x2="355.75" y2="186.3" stroke="#444" stroke-width="1"/>
<text x="355.40" y="196.5" font-size="7" text-anchor="middle" letter-spacing="-0.7" fill="#000">40</text>
<line x1="404.00" y1="182" x2="404.00" y2="186.3" stroke="#444" stroke-width="1"/>
<text x="403.65" y="196.5" font-size="7" text-anchor="middle" letter-spacing="-0.7" fill="#000">60</text>
<line x1="452.25" y1="182" x2="452.25" y2="186.3" stroke="#444" stroke-width="1"/>
<text x="451.90" y="196.5" font-size="7" text-anchor="middle" letter-spacing="-0.7" fill="#000">80</text>
<line x1="247.15" y1="175.30" x2="251.75" y2="175.30" stroke="#444" stroke-width="1"/>
<text x="241.85" y="175.30" font-size="7" text-anchor="middle" letter-spacing="-0.7" fill="#000" transform="rotate(-90 242.2 175.30)">0</text>
<line x1="247.15" y1="148.30" x2="251.75" y2="148.30" stroke="#444" stroke-width="1"/>
<text x="241.85" y="148.30" font-size="7" text-anchor="middle" letter-spacing="-0.7" fill="#000" transform="rotate(-90 242.2 148.30)">20</text>
<line x1="247.15" y1="121.30" x2="251.75" y2="121.30" stroke="#444" stroke-width="1"/>
<text x="241.85" y="121.30" font-size="7" text-anchor="middle" letter-spacing="-0.7" fill="#000" transform="rotate(-90 242.2 121.30)">40</text>
<line x1="247.15" y1="94.30" x2="251.75" y2="94.30" stroke="#444" stroke-width="1"/>
<text x="241.85" y="94.30" font-size="7" text-anchor="middle" letter-spacing="-0.7" fill="#000" transform="rotate(-90 242.2 94.30)">60</text>
<line x1="247.15" y1="67.30" x2="251.75" y2="67.30" stroke="#444" stroke-width="1"/>
<text x="241.85" y="67.30" font-size="7" text-anchor="middle" letter-spacing="-0.7" fill="#000" transform="rotate(-90 242.2 67.30)">80</text>
<line x1="247.15" y1="40.30" x2="251.75" y2="40.30" stroke="#444" stroke-width="1"/>
<text x="241.85" y="40.30" font-size="7" text-anchor="middle" letter-spacing="-0.7" fill="#000" transform="rotate(-90 242.2 40.30)">100</text>
<line x1="247.15" y1="13.30" x2="251.75" y2="13.30" stroke="#444" stroke-width="1"/>
<text x="241.85" y="13.30" font-size="7" text-anchor="middle" letter-spacing="-0.7" fill="#000" transform="rotate(-90 242.2 13.30)">120</text>
<text x="354.8" y="208.8" font-size="8" text-anchor="middle" textLength="59.6" lengthAdjust="spacingAndGlyphs" fill="#0a0a0a">Number of strokes</text>
<text x="255.8" y="11.6" font-size="13" text-anchor="start" font-weight="bold" fill="#111">B</text>
<g fill="#b4b4b4">
<circle cx="407.9" cy="157.2" r="1.6"/><circle cx="436.9" cy="140.5" r="1.6"/><circle cx="429.5" cy="147.4" r="1.6"/><circle cx="437.8" cy="145.2" r="1.6"/><circle cx="418.2" cy="146.0" r="1.6"/><circle cx="453.1" cy="128.3" r="1.6"/><circle cx="415.2" cy="155.3" r="1.6"/><circle cx="434.0" cy="142.0" r="1.6"/><circle cx="421.8" cy="148.7" r="1.6"/><circle cx="413.6" cy="152.8" r="1.6"/><circle cx="427.8" cy="144.0" r="1.6"/><circle cx="443.1" cy="134.4" r="1.6"/><circle cx="404.9" cy="161.3" r="1.6"/><circle cx="426.9" cy="144.5" r="1.6"/><circle cx="426.2" cy="146.5" r="1.6"/><circle cx="401.9" cy="163.1" r="1.6"/><circle cx="445.2" cy="134.6" r="1.6"/><circle cx="449.0" cy="131.5" r="1.6"/><circle cx="403.9" cy="158.7" r="1.6"/><circle cx="445.6" cy="133.5" r="1.6"/><circle cx="413.1" cy="149.2" r="1.6"/><circle cx="419.4" cy="151.3" r="1.6"/><circle cx="446.3" cy="135.7" r="1.6"/><circle cx="423.2" cy="147.6" r="1.6"/><circle cx="420.9" cy="146.7" r="1.6"/><circle cx="444.1" cy="135.5" r="1.6"/><circle cx="442.5" cy="137.7" r="1.6"/><circle cx="433.5" cy="141.4" r="1.6"/><circle cx="397.4" cy="162.9" r="1.6"/><circle cx="436.1" cy="139.2" r="1.6"/><circle cx="406.9" cy="158.4" r="1.6"/><circle cx="418.8" cy="148.4" r="1.6"/><circle cx="403.1" cy="159.8" r="1.6"/><circle cx="421.3" cy="151.5" r="1.6"/><circle cx="405.7" cy="161.7" r="1.6"/><circle cx="437.9" cy="134.5" r="1.6"/><circle cx="403.3" cy="159.3" r="1.6"/><circle cx="418.7" cy="150.9" r="1.6"/><circle cx="416.6" cy="151.5" r="1.6"/><circle cx="439.7" cy="138.4" r="1.6"/><circle cx="403.4" cy="163.1" r="1.6"/><circle cx="419.9" cy="150.1" r="1.6"/><circle cx="415.0" cy="151.7" r="1.6"/><circle cx="431.0" cy="144.8" r="1.6"/><circle cx="430.3" cy="145.3" r="1.6"/><circle cx="417.2" cy="154.1" r="1.6"/><circle cx="429.2" cy="147.5" r="1.6"/><circle cx="417.9" cy="153.3" r="1.6"/><circle cx="419.4" cy="145.4" r="1.6"/><circle cx="416.8" cy="150.7" r="1.6"/><circle cx="415.0" cy="155.9" r="1.6"/><circle cx="416.0" cy="150.0" r="1.6"/><circle cx="425.0" cy="146.3" r="1.6"/><circle cx="450.5" cy="128.5" r="1.6"/><circle cx="419.1" cy="154.4" r="1.6"/><circle cx="430.7" cy="146.9" r="1.6"/><circle cx="441.2" cy="136.0" r="1.6"/><circle cx="403.6" cy="160.9" r="1.6"/><circle cx="422.5" cy="150.8" r="1.6"/><circle cx="455.2" cy="126.9" r="1.6"/><circle cx="424.3" cy="146.1" r="1.6"/><circle cx="439.5" cy="138.4" r="1.6"/><circle cx="419.1" cy="151.8" r="1.6"/><circle cx="434.5" cy="140.2" r="1.6"/><circle cx="428.6" cy="148.0" r="1.6"/><circle cx="401.9" cy="161.9" r="1.6"/><circle cx="432.8" cy="139.3" r="1.6"/><circle cx="395.7" cy="164.2" r="1.6"/><circle cx="449.0" cy="130.0" r="1.6"/><circle cx="446.8" cy="132.3" r="1.6"/><circle cx="445.5" cy="130.6" r="1.6"/><circle cx="444.8" cy="135.4" r="1.6"/><circle cx="437.2" cy="139.0" r="1.6"/><circle cx="434.9" cy="137.6" r="1.6"/><circle cx="438.6" cy="139.5" r="1.6"/><circle cx="428.1" cy="141.1" r="1.6"/><circle cx="406.3" cy="162.8" r="1.6"/><circle cx="401.2" cy="163.6" r="1.6"/><circle cx="417.2" cy="158.8" r="1.6"/><circle cx="418.9" cy="161.0" r="1.6"/><circle cx="404.8" cy="161.8" r="1.6"/><circle cx="408.6" cy="159.9" r="1.6"/><circle cx="403.3" cy="159.1" r="1.6"/><circle cx="430.4" cy="144.9" r="1.6"/><circle cx="426.5" cy="143.8" r="1.6"/><circle cx="433.6" cy="141.5" r="1.6"/><circle cx="434.8" cy="139.2" r="1.6"/><circle cx="443.5" cy="136.2" r="1.6"/>
</g>
<g fill="#1a1a1a">
<circle cx="440.7" cy="100.4" r="1.6"/><circle cx="448.3" cy="97.4" r="1.6"/><circle cx="438.6" cy="97.4" r="1.6"/><circle cx="450.7" cy="102.6" r="1.6"/><circle cx="437.0" cy="101.6" r="1.6"/><circle cx="448.5" cy="104.7" r="1.6"/><circle cx="433.0" cy="103.2" r="1.6"/><circle cx="437.0" cy="101.2" r="1.6"/><circle cx="429.4" cy="103.9" r="1.6"/><circle cx="433.2" cy="102.9" r="1.6"/><circle cx="431.2" cy="100.2" r="1.6"/><circle cx="431.2" cy="108.7" r="1.6"/><circle cx="442.1" cy="102.0" r="1.6"/><circle cx="451.6" cy="100.8" r="1.6"/><circle cx="452.7" cy="98.8" r="1.6"/><circle cx="436.5" cy="104.7" r="1.6"/><circle cx="437.0" cy="105.6" r="1.6"/><circle cx="434.3" cy="107.4" r="1.6"/><circle cx="439.3" cy="109.0" r="1.6"/><circle cx="437.0" cy="107.5" r="1.6"/><circle cx="437.6" cy="112.1" r="1.6"/><circle cx="424.4" cy="110.4" r="1.6"/><circle cx="438.5" cy="115.8" r="1.6"/><circle cx="427.9" cy="118.1" r="1.6"/><circle cx="426.0" cy="124.6" r="1.6"/><circle cx="420.4" cy="127.0" r="1.6"/><circle cx="429.6" cy="114.2" r="1.6"/><circle cx="432.5" cy="116.1" r="1.6"/><circle cx="436.8" cy="113.4" r="1.6"/><circle cx="433.2" cy="111.1" r="1.6"/><circle cx="427.6" cy="118.1" r="1.6"/><circle cx="437.3" cy="112.1" r="1.6"/><circle cx="431.2" cy="108.8" r="1.6"/><circle cx="423.2" cy="114.7" r="1.6"/><circle cx="430.0" cy="118.6" r="1.6"/><circle cx="422.9" cy="120.8" r="1.6"/><circle cx="414.9" cy="123.7" r="1.6"/><circle cx="416.7" cy="128.0" r="1.6"/><circle cx="402.4" cy="146.9" r="1.6"/><circle cx="399.8" cy="152.8" r="1.6"/><circle cx="406.5" cy="142.7" r="1.6"/><circle cx="416.4" cy="135.6" r="1.6"/><circle cx="408.7" cy="144.9" r="1.6"/><circle cx="403.5" cy="149.1" r="1.6"/><circle cx="411.6" cy="139.8" r="1.6"/><circle cx="413.1" cy="137.1" r="1.6"/><circle cx="404.4" cy="145.5" r="1.6"/><circle cx="411.0" cy="138.5" r="1.6"/><circle cx="413.1" cy="134.4" r="1.6"/><circle cx="407.6" cy="144.7" r="1.6"/><circle cx="402.2" cy="149.7" r="1.6"/><circle cx="412.2" cy="140.1" r="1.6"/><circle cx="405.0" cy="141.0" r="1.6"/><circle cx="419.0" cy="133.9" r="1.6"/><circle cx="397.1" cy="153.6" r="1.6"/><circle cx="401.2" cy="148.5" r="1.6"/><circle cx="401.5" cy="149.9" r="1.6"/><circle cx="406.8" cy="142.0" r="1.6"/><circle cx="412.5" cy="138.6" r="1.6"/><circle cx="401.1" cy="149.1" r="1.6"/><circle cx="412.9" cy="131.6" r="1.6"/><circle cx="410.3" cy="136.2" r="1.6"/><circle cx="417.0" cy="137.8" r="1.6"/><circle cx="410.7" cy="139.7" r="1.6"/><circle cx="409.9" cy="135.1" r="1.6"/><circle cx="398.6" cy="154.0" r="1.6"/><circle cx="406.3" cy="137.9" r="1.6"/><circle cx="418.5" cy="138.0" r="1.6"/><circle cx="404.9" cy="140.1" r="1.6"/><circle cx="407.5" cy="145.1" r="1.6"/><circle cx="415.3" cy="136.6" r="1.6"/><circle cx="400.5" cy="146.6" r="1.6"/><circle cx="408.6" cy="143.2" r="1.6"/><circle cx="413.6" cy="140.2" r="1.6"/><circle cx="402.9" cy="150.2" r="1.6"/><circle cx="412.9" cy="138.1" r="1.6"/><circle cx="410.1" cy="143.9" r="1.6"/><circle cx="411.8" cy="138.9" r="1.6"/><circle cx="405.1" cy="147.3" r="1.6"/><circle cx="414.8" cy="134.0" r="1.6"/><circle cx="414.3" cy="138.0" r="1.6"/><circle cx="403.6" cy="144.5" r="1.6"/><circle cx="415.1" cy="137.8" r="1.6"/><circle cx="414.4" cy="132.6" r="1.6"/><circle cx="415.3" cy="128.2" r="1.6"/><circle cx="415.3" cy="135.7" r="1.6"/><circle cx="417.0" cy="139.2" r="1.6"/><circle cx="410.2" cy="143.8" r="1.6"/><circle cx="399.5" cy="151.3" r="1.6"/><circle cx="419.4" cy="132.6" r="1.6"/><circle cx="398.0" cy="153.4" r="1.6"/><circle cx="411.3" cy="138.3" r="1.6"/><circle cx="417.2" cy="132.3" r="1.6"/><circle cx="406.3" cy="145.5" r="1.6"/><circle cx="414.9" cy="129.2" r="1.6"/><circle cx="419.5" cy="125.1" r="1.6"/><circle cx="418.2" cy="121.8" r="1.6"/><circle cx="411.8" cy="130.4" r="1.6"/><circle cx="416.7" cy="127.3" r="1.6"/><circle cx="427.9" cy="123.9" r="1.6"/><circle cx="434.2" cy="121.6" r="1.6"/><circle cx="423.1" cy="124.6" r="1.6"/><circle cx="425.6" cy="127.7" r="1.6"/><circle cx="421.7" cy="125.0" r="1.6"/><circle cx="413.3" cy="125.8" r="1.6"/><circle cx="422.5" cy="126.3" r="1.6"/><circle cx="425.1" cy="125.0" r="1.6"/><circle cx="421.8" cy="123.9" r="1.6"/><circle cx="423.1" cy="126.5" r="1.6"/><circle cx="427.3" cy="123.1" r="1.6"/><circle cx="385.7" cy="170.8" r="1.6"/><circle cx="393.4" cy="161.9" r="1.6"/><circle cx="399.0" cy="156.9" r="1.6"/><circle cx="396.6" cy="156.9" r="1.6"/><circle cx="400.9" cy="153.6" r="1.6"/><circle cx="408.3" cy="149.2" r="1.6"/><circle cx="419.0" cy="142.5" r="1.6"/><circle cx="392.7" cy="155.3" r="1.6"/><circle cx="397.3" cy="154.2" r="1.6"/><circle cx="394.0" cy="152.4" r="1.6"/>
</g>
<g fill="#fff" stroke="#2a2a2a" stroke-width="0.55">
<circle cx="404.9" cy="162.8" r="1.3"/><circle cx="397.3" cy="163.6" r="1.3"/><circle cx="406.5" cy="155.4" r="1.3"/><circle cx="391.8" cy="167.3" r="1.3"/><circle cx="403.1" cy="157.8" r="1.3"/><circle cx="418.0" cy="152.0" r="1.3"/><circle cx="406.8" cy="154.9" r="1.3"/><circle cx="418.3" cy="153.3" r="1.3"/><circle cx="418.1" cy="149.3" r="1.3"/><circle cx="416.5" cy="152.3" r="1.3"/><circle cx="423.9" cy="148.8" r="1.3"/><circle cx="413.2" cy="156.5" r="1.3"/><circle cx="425.5" cy="147.0" r="1.3"/><circle cx="435.6" cy="144.7" r="1.3"/><circle cx="414.6" cy="154.1" r="1.3"/><circle cx="414.5" cy="155.9" r="1.3"/><circle cx="426.1" cy="148.0" r="1.3"/><circle cx="420.2" cy="150.9" r="1.3"/><circle cx="419.9" cy="150.8" r="1.3"/><circle cx="420.1" cy="143.8" r="1.3"/><circle cx="421.9" cy="149.3" r="1.3"/><circle cx="422.1" cy="146.2" r="1.3"/><circle cx="426.5" cy="143.6" r="1.3"/><circle cx="427.4" cy="144.3" r="1.3"/><circle cx="431.2" cy="142.7" r="1.3"/><circle cx="422.3" cy="151.8" r="1.3"/><circle cx="423.8" cy="145.5" r="1.3"/><circle cx="423.6" cy="146.8" r="1.3"/><circle cx="445.7" cy="131.6" r="1.3"/><circle cx="409.3" cy="157.7" r="1.3"/><circle cx="433.4" cy="142.5" r="1.3"/><circle cx="398.9" cy="133.9" r="1.3"/>
</g>
<path d="M376.25 174.25H452.5" stroke="#444" stroke-width="0.8" fill="none"/>
<line x1="376.25" y1="174.25" x2="376.25" y2="176.5" stroke="#444" stroke-width="0.7"/>
<text x="376.25" y="180.7" font-size="5.3" text-anchor="middle" textLength="2.6" lengthAdjust="spacingAndGlyphs" fill="#0a0a0a">0</text>
<line x1="395.25" y1="174.25" x2="395.25" y2="176.5" stroke="#444" stroke-width="0.7"/>
<text x="395.25" y="180.7" font-size="5.3" text-anchor="middle" textLength="5.2" lengthAdjust="spacingAndGlyphs" fill="#0a0a0a">10</text>
<line x1="414.25" y1="174.25" x2="414.25" y2="176.5" stroke="#444" stroke-width="0.7"/>
<text x="414.25" y="180.7" font-size="5.3" text-anchor="middle" textLength="5.2" lengthAdjust="spacingAndGlyphs" fill="#0a0a0a">20</text>
<line x1="433.25" y1="174.25" x2="433.25" y2="176.5" stroke="#444" stroke-width="0.7"/>
<text x="433.25" y="180.7" font-size="5.3" text-anchor="middle" textLength="5.2" lengthAdjust="spacingAndGlyphs" fill="#0a0a0a">30</text>
<line x1="452.25" y1="174.25" x2="452.25" y2="176.5" stroke="#444" stroke-width="0.7"/>
<text x="452.25" y="180.7" font-size="5.3" text-anchor="middle" textLength="5.2" lengthAdjust="spacingAndGlyphs" fill="#0a0a0a">40</text>
<path d="M378.25 105.5V161.75" stroke="#444" stroke-width="0.8" fill="none"/>
<line x1="375.7" y1="161.75" x2="378.25" y2="161.75" stroke="#444" stroke-width="0.7"/>
<text x="373.6" y="161.75" font-size="5.3" text-anchor="middle" transform="rotate(-90 373.6 161.75)" textLength="5.2" lengthAdjust="spacingAndGlyphs" fill="#0a0a0a">50</text>
<line x1="375.7" y1="143.00" x2="378.25" y2="143.00" stroke="#444" stroke-width="0.7"/>
<text x="373.6" y="143.0" font-size="5.3" text-anchor="middle" transform="rotate(-90 373.6 143.0)" textLength="7.8" lengthAdjust="spacingAndGlyphs" fill="#0a0a0a">100</text>
<line x1="375.7" y1="124.25" x2="378.25" y2="124.25" stroke="#444" stroke-width="0.7"/>
<text x="373.6" y="124.25" font-size="5.3" text-anchor="middle" transform="rotate(-90 373.6 124.25)" textLength="7.8" lengthAdjust="spacingAndGlyphs" fill="#0a0a0a">150</text>
<line x1="375.7" y1="105.50" x2="378.25" y2="105.50" stroke="#444" stroke-width="0.7"/>
<text x="373.6" y="105.5" font-size="5.3" text-anchor="middle" transform="rotate(-90 373.6 105.5)" textLength="7.8" lengthAdjust="spacingAndGlyphs" fill="#0a0a0a">200</text>
<text x="366.4" y="138.7" font-size="5.6" text-anchor="middle" transform="rotate(-90 366.4 138.7)" textLength="53.5" lengthAdjust="spacingAndGlyphs" fill="#0a0a0a">Swim duration (seconds)</text>
<text x="375" y="100.7" font-size="5.3" text-anchor="start" fill="#0a0a0a">G</text>
<g fill="#b4b4b4">
<circle cx="570.0" cy="119.7" r="1.9"/><circle cx="533.2" cy="149.6" r="1.9"/>
</g>
<g fill="#1a1a1a">
<circle cx="623.9" cy="44.1" r="1.9"/><circle cx="545.8" cy="148.4" r="1.9"/><circle cx="522.1" cy="157.8" r="1.9"/>
</g>
<g fill="#b4b4b4">
<circle cx="527.6" cy="153.7" r="1.9"/><circle cx="566.6" cy="113.9" r="1.9"/><circle cx="531.1" cy="145.0" r="1.9"/><circle cx="564.6" cy="134.4" r="1.9"/>
</g>
<g fill="#1a1a1a">
<circle cx="552.6" cy="135.7" r="1.9"/><circle cx="598.2" cy="77.8" r="1.9"/>
</g>
<g fill="#b4b4b4">
<circle cx="534.2" cy="153.5" r="1.9"/>
</g>
<g fill="#1a1a1a">
<circle cx="587.3" cy="102.4" r="1.9"/>
</g>
<g fill="#b4b4b4">
<circle cx="539.5" cy="150.1" r="1.9"/><circle cx="575.4" cy="95.4" r="1.9"/><circle cx="543.7" cy="152.6" r="1.9"/><circle cx="570.4" cy="103.5" r="1.9"/><circle cx="548.7" cy="126.8" r="1.9"/><circle cx="574.8" cy="103.8" r="1.9"/>
</g>
<g fill="#1a1a1a">
<circle cx="583.1" cy="86.3" r="1.9"/><circle cx="571.1" cy="111.0" r="1.9"/><circle cx="543.3" cy="142.4" r="1.9"/>
</g>
<g fill="#b4b4b4">
<circle cx="551.1" cy="133.5" r="1.9"/><circle cx="552.9" cy="136.5" r="1.9"/><circle cx="544.0" cy="145.2" r="1.9"/>
</g>
<g fill="#1a1a1a">
<circle cx="633.7" cy="61.0" r="1.9"/><circle cx="568.7" cy="109.7" r="1.9"/><circle cx="561.5" cy="124.5" r="1.9"/>
</g>
<g fill="#b4b4b4">
<circle cx="549.9" cy="157.3" r="1.9"/><circle cx="559.7" cy="138.3" r="1.9"/><circle cx="528.0" cy="155.0" r="1.9"/>
</g>
<g fill="#1a1a1a">
<circle cx="556.9" cy="119.9" r="1.9"/>
</g>
<g fill="#b4b4b4">
<circle cx="538.5" cy="142.5" r="1.9"/>
</g>
<g fill="#1a1a1a">
<circle cx="553.5" cy="132.8" r="1.9"/>
</g>
<g fill="#b4b4b4">
<circle cx="568.0" cy="129.2" r="1.9"/>
</g>
<g fill="#1a1a1a">
<circle cx="582.2" cy="72.7" r="1.9"/><circle cx="569.8" cy="115.5" r="1.9"/><circle cx="533.5" cy="149.7" r="1.9"/><circle cx="547.2" cy="138.9" r="1.9"/>
</g>
<g fill="#b4b4b4">
<circle cx="537.1" cy="162.0" r="1.9"/><circle cx="581.6" cy="113.1" r="1.9"/><circle cx="563.6" cy="136.8" r="1.9"/>
</g>
<g fill="#1a1a1a">
<circle cx="542.5" cy="148.3" r="1.9"/><circle cx="637.8" cy="29.1" r="1.9"/><circle cx="560.9" cy="123.5" r="1.9"/>
</g>
<g fill="#b4b4b4">
<circle cx="569.9" cy="116.8" r="1.9"/><circle cx="597.2" cy="89.0" r="1.9"/>
</g>
<g fill="#1a1a1a">
<circle cx="528.4" cy="152.4" r="1.9"/>
</g>
<g fill="#b4b4b4">
<circle cx="559.5" cy="127.7" r="1.9"/><circle cx="581.5" cy="94.2" r="1.9"/><circle cx="571.3" cy="105.2" r="1.9"/>
</g>
<g fill="#1a1a1a">
<circle cx="570.0" cy="106.1" r="1.9"/><circle cx="635.4" cy="28.2" r="1.9"/>
</g>
<g fill="#b4b4b4">
<circle cx="598.2" cy="83.6" r="1.9"/>
</g>
<g fill="#1a1a1a">
<circle cx="582.9" cy="91.6" r="1.9"/>
</g>
<g fill="#b4b4b4">
<circle cx="559.0" cy="143.4" r="1.9"/>
</g>
<g fill="#1a1a1a">
<circle cx="606.8" cy="58.7" r="1.9"/>
</g>
<g fill="#b4b4b4">
<circle cx="548.6" cy="135.0" r="1.9"/><circle cx="604.9" cy="50.6" r="1.9"/><circle cx="556.5" cy="136.6" r="1.9"/><circle cx="537.5" cy="151.0" r="1.9"/>
</g>
<g fill="#1a1a1a">
<circle cx="582.0" cy="98.9" r="1.9"/><circle cx="544.0" cy="148.0" r="1.9"/><circle cx="560.9" cy="128.9" r="1.9"/><circle cx="614.0" cy="58.1" r="1.9"/><circle cx="577.7" cy="101.0" r="1.9"/><circle cx="549.2" cy="140.6" r="1.9"/><circle cx="581.0" cy="92.7" r="1.9"/>
</g>
<g fill="#b4b4b4">
<circle cx="558.2" cy="124.9" r="1.9"/><circle cx="601.6" cy="83.5" r="1.9"/><circle cx="591.1" cy="103.4" r="1.9"/><circle cx="570.3" cy="123.9" r="1.9"/><circle cx="562.1" cy="121.3" r="1.9"/>
</g>
<g fill="#1a1a1a">
<circle cx="621.0" cy="61.4" r="1.9"/><circle cx="558.5" cy="117.9" r="1.9"/><circle cx="558.9" cy="131.7" r="1.9"/>
</g>
<g fill="#b4b4b4">
<circle cx="588.6" cy="107.8" r="1.9"/><circle cx="576.6" cy="89.0" r="1.9"/>
</g>
<g fill="#1a1a1a">
<circle cx="603.2" cy="84.0" r="1.9"/><circle cx="560.0" cy="123.2" r="1.9"/><circle cx="562.1" cy="122.8" r="1.9"/><circle cx="556.1" cy="134.4" r="1.9"/><circle cx="627.4" cy="57.2" r="1.9"/>
</g>
<g fill="#b4b4b4">
<circle cx="598.5" cy="77.4" r="1.9"/>
</g>
<g fill="#1a1a1a">
<circle cx="629.0" cy="39.8" r="1.9"/><circle cx="551.0" cy="132.2" r="1.9"/><circle cx="551.0" cy="127.5" r="1.9"/>
</g>
<g fill="#b4b4b4">
<circle cx="573.2" cy="97.8" r="1.9"/>
</g>
<g fill="#1a1a1a">
<circle cx="583.1" cy="94.9" r="1.9"/><circle cx="536.3" cy="148.7" r="1.9"/>
</g>
<g fill="#b4b4b4">
<circle cx="554.9" cy="128.9" r="1.9"/><circle cx="547.9" cy="148.3" r="1.9"/>
</g>
<g fill="#1a1a1a">
<circle cx="567.2" cy="116.5" r="1.9"/><circle cx="603.6" cy="86.7" r="1.9"/>
</g>
<g fill="#b4b4b4">
<circle cx="563.2" cy="133.8" r="1.9"/>
</g>
<g fill="#1a1a1a">
<circle cx="568.7" cy="118.1" r="1.9"/>
</g>
<g fill="#b4b4b4">
<circle cx="562.5" cy="127.9" r="1.9"/>
</g>
<g fill="#1a1a1a">
<circle cx="610.4" cy="67.2" r="1.9"/><circle cx="593.5" cy="85.3" r="1.9"/>
</g>
<g fill="#b4b4b4">
<circle cx="583.4" cy="104.2" r="1.9"/>
</g>
<g fill="#1a1a1a">
<circle cx="556.2" cy="126.7" r="1.9"/><circle cx="598.0" cy="73.1" r="1.9"/>
</g>
<g fill="#b4b4b4">
<circle cx="552.4" cy="132.0" r="1.9"/><circle cx="567.7" cy="128.5" r="1.9"/><circle cx="570.1" cy="106.1" r="1.9"/>
</g>
<g fill="#1a1a1a">
<circle cx="616.9" cy="59.6" r="1.9"/><circle cx="564.1" cy="116.9" r="1.9"/>
</g>
<g fill="#b4b4b4">
<circle cx="591.3" cy="64.5" r="1.9"/><circle cx="570.4" cy="126.0" r="1.9"/>
</g>
<g fill="#1a1a1a">
<circle cx="548.1" cy="141.1" r="1.9"/>
</g>
<g fill="#b4b4b4">
<circle cx="548.0" cy="142.3" r="1.9"/><circle cx="579.0" cy="116.2" r="1.9"/><circle cx="561.7" cy="129.5" r="1.9"/>
</g>
<g fill="#1a1a1a">
<circle cx="601.0" cy="75.9" r="1.9"/>
</g>
<g fill="#b4b4b4">
<circle cx="558.6" cy="132.5" r="1.9"/><circle cx="583.2" cy="106.1" r="1.9"/>
</g>
<g fill="#1a1a1a">
<circle cx="614.8" cy="45.8" r="1.9"/>
</g>
<g fill="#b4b4b4">
<circle cx="595.7" cy="89.8" r="1.9"/><circle cx="548.5" cy="141.7" r="1.9"/>
</g>
<g fill="#1a1a1a">
<circle cx="608.9" cy="79.7" r="1.9"/>
</g>
<g fill="#b4b4b4">
<circle cx="541.0" cy="155.1" r="1.9"/><circle cx="569.4" cy="114.3" r="1.9"/>
</g>
<g fill="#1a1a1a">
<circle cx="563.3" cy="119.9" r="1.9"/>
</g>
<g fill="#b4b4b4">
<circle cx="558.1" cy="120.0" r="1.9"/><circle cx="585.8" cy="70.3" r="1.9"/>
</g>
<g fill="#1a1a1a">
<circle cx="584.7" cy="80.5" r="1.9"/><circle cx="594.3" cy="79.7" r="1.9"/>
</g>
<g fill="#b4b4b4">
<circle cx="550.5" cy="148.9" r="1.9"/>
</g>
<g fill="#1a1a1a">
<circle cx="622.0" cy="38.8" r="1.9"/><circle cx="551.0" cy="128.5" r="1.9"/>
</g>
<g fill="#b4b4b4">
<circle cx="614.6" cy="61.5" r="1.9"/><circle cx="587.4" cy="100.1" r="1.9"/>
</g>
<g fill="#1a1a1a">
<circle cx="573.1" cy="113.0" r="1.9"/><circle cx="627.5" cy="35.0" r="1.9"/>
</g>
<g fill="#b4b4b4">
<circle cx="581.1" cy="101.8" r="1.9"/><circle cx="532.8" cy="159.1" r="1.9"/><circle cx="575.9" cy="99.5" r="1.9"/>
</g>
<g fill="#1a1a1a">
<circle cx="544.8" cy="139.7" r="1.9"/><circle cx="596.5" cy="65.5" r="1.9"/><circle cx="559.2" cy="131.5" r="1.9"/>
</g>
<g fill="#b4b4b4">
<circle cx="558.8" cy="117.6" r="1.9"/><circle cx="596.6" cy="92.8" r="1.9"/>
</g>
<g fill="#1a1a1a">
<circle cx="564.7" cy="123.3" r="1.9"/>
</g>
<g fill="#b4b4b4">
<circle cx="548.9" cy="139.6" r="1.9"/><circle cx="572.2" cy="112.3" r="1.9"/>
</g>
<g fill="#1a1a1a">
<circle cx="559.5" cy="126.8" r="1.9"/><circle cx="563.8" cy="120.0" r="1.9"/><circle cx="585.6" cy="86.7" r="1.9"/>
</g>
<g fill="#b4b4b4">
<circle cx="565.6" cy="102.5" r="1.9"/><circle cx="550.4" cy="135.1" r="1.9"/><circle cx="584.5" cy="105.1" r="1.9"/>
</g>
<g fill="#1a1a1a">
<circle cx="554.3" cy="138.6" r="1.9"/>
</g>
<g fill="#b4b4b4">
<circle cx="596.2" cy="80.8" r="1.9"/>
</g>
<g fill="#1a1a1a">
<circle cx="577.0" cy="100.8" r="1.9"/><circle cx="541.3" cy="131.0" r="1.9"/><circle cx="622.1" cy="32.7" r="1.9"/><circle cx="569.3" cy="108.6" r="1.9"/><circle cx="591.0" cy="88.1" r="1.9"/>
</g>
<g fill="#b4b4b4">
<circle cx="537.2" cy="149.7" r="1.9"/>
</g>
<g fill="#1a1a1a">
<circle cx="566.3" cy="114.4" r="1.9"/>
</g>
<g fill="#b4b4b4">
<circle cx="573.4" cy="118.6" r="1.9"/>
</g>
<g fill="#1a1a1a">
<circle cx="607.1" cy="78.8" r="1.9"/><circle cx="618.7" cy="38.1" r="1.9"/><circle cx="576.7" cy="100.2" r="1.9"/><circle cx="528.4" cy="151.0" r="1.9"/><circle cx="628.2" cy="44.6" r="1.9"/><circle cx="587.9" cy="109.8" r="1.9"/>
</g>
<g fill="#b4b4b4">
<circle cx="556.0" cy="124.8" r="1.9"/>
</g>
<g fill="#1a1a1a">
<circle cx="581.1" cy="75.4" r="1.9"/><circle cx="554.5" cy="128.9" r="1.9"/>
</g>
<g fill="#b4b4b4">
<circle cx="550.3" cy="141.5" r="1.9"/><circle cx="562.6" cy="127.5" r="1.9"/><circle cx="540.5" cy="152.4" r="1.9"/><circle cx="533.5" cy="143.9" r="1.9"/>
</g>
<g fill="#1a1a1a">
<circle cx="621.0" cy="55.3" r="1.9"/><circle cx="549.0" cy="136.7" r="1.9"/><circle cx="572.4" cy="109.8" r="1.9"/><circle cx="625.1" cy="42.2" r="1.9"/><circle cx="535.1" cy="149.0" r="1.9"/><circle cx="555.3" cy="125.1" r="1.9"/><circle cx="580.2" cy="98.5" r="1.9"/>
</g>
<g fill="#b4b4b4">
<circle cx="582.2" cy="97.6" r="1.9"/><circle cx="572.3" cy="130.4" r="1.9"/><circle cx="595.7" cy="64.3" r="1.9"/><circle cx="564.0" cy="119.5" r="1.9"/>
</g>
<g fill="#1a1a1a">
<circle cx="537.4" cy="147.0" r="1.9"/>
</g>
<g fill="#b4b4b4">
<circle cx="536.3" cy="156.0" r="1.9"/>
</g>
<g fill="#1a1a1a">
<circle cx="510.3" cy="168.1" r="1.9"/><circle cx="562.2" cy="115.0" r="1.9"/><circle cx="584.3" cy="106.5" r="1.9"/><circle cx="543.6" cy="146.4" r="1.9"/>
</g>
<g fill="#b4b4b4">
<circle cx="575.8" cy="110.5" r="1.9"/>
</g>
<g fill="#1a1a1a">
<circle cx="615.6" cy="85.9" r="1.9"/><circle cx="584.8" cy="88.3" r="1.9"/><circle cx="563.0" cy="119.2" r="1.9"/><circle cx="579.6" cy="103.5" r="1.9"/>
</g>
<g fill="#b4b4b4">
<circle cx="548.1" cy="142.1" r="1.9"/>
</g>
<g fill="#1a1a1a">
<circle cx="561.2" cy="120.1" r="1.9"/><circle cx="631.3" cy="20.6" r="1.9"/><circle cx="533.0" cy="153.7" r="1.9"/><circle cx="538.6" cy="148.7" r="1.9"/><circle cx="575.9" cy="83.4" r="1.9"/><circle cx="585.0" cy="109.2" r="1.9"/><circle cx="565.2" cy="123.1" r="1.9"/>
</g>
<g fill="#b4b4b4">
<circle cx="561.9" cy="138.7" r="1.9"/><circle cx="586.5" cy="84.5" r="1.9"/>
</g>
<g fill="#1a1a1a">
<circle cx="555.1" cy="129.1" r="1.9"/>
</g>
<g fill="#b4b4b4">
<circle cx="571.3" cy="109.3" r="1.9"/>
</g>
<g fill="#1a1a1a">
<circle cx="614.6" cy="66.2" r="1.9"/>
</g>
<g fill="#b4b4b4">
<circle cx="562.3" cy="125.1" r="1.9"/>
</g>
<g fill="#1a1a1a">
<circle cx="536.0" cy="146.3" r="1.9"/>
</g>
<g fill="#b4b4b4">
<circle cx="585.9" cy="97.0" r="1.9"/>
</g>
<g fill="#1a1a1a">
<circle cx="561.0" cy="128.2" r="1.9"/><circle cx="546.0" cy="146.5" r="1.9"/><circle cx="604.0" cy="61.9" r="1.9"/><circle cx="566.8" cy="119.3" r="1.9"/>
</g>
<g fill="#b4b4b4">
<circle cx="612.4" cy="80.8" r="1.9"/><circle cx="564.4" cy="138.0" r="1.9"/>
</g>
<g fill="#1a1a1a">
<circle cx="545.4" cy="141.7" r="1.9"/><circle cx="544.9" cy="135.4" r="1.9"/>
</g>
<g fill="#b4b4b4">
<circle cx="558.5" cy="133.1" r="1.9"/>
</g>
<g fill="#fff" stroke="#2a2a2a" stroke-width="0.75">
<circle cx="536.3" cy="141.1" r="1.6"/><circle cx="530.8" cy="146.3" r="1.6"/><circle cx="541.4" cy="111.3" r="1.6"/><circle cx="513.5" cy="158.4" r="1.6"/><circle cx="537.7" cy="126.2" r="1.6"/><circle cx="594.1" cy="93.8" r="1.6"/><circle cx="546.7" cy="105.1" r="1.6"/><circle cx="548.9" cy="119.7" r="1.6"/><circle cx="543.6" cy="115.1" r="1.6"/><circle cx="546.7" cy="99.4" r="1.6"/><circle cx="550.8" cy="115.1" r="1.6"/><circle cx="570.2" cy="102.7" r="1.6"/><circle cx="544.9" cy="131.2" r="1.6"/><circle cx="552.0" cy="91.7" r="1.6"/><circle cx="556.3" cy="85.5" r="1.6"/><circle cx="547.6" cy="128.1" r="1.6"/><circle cx="541.1" cy="124.0" r="1.6"/><circle cx="553.6" cy="106.7" r="1.6"/><circle cx="555.5" cy="121.7" r="1.6"/><circle cx="549.8" cy="113.2" r="1.6"/><circle cx="563.0" cy="94.3" r="1.6"/><circle cx="551.5" cy="118.9" r="1.6"/><circle cx="560.3" cy="109.3" r="1.6"/><circle cx="547.3" cy="99.4" r="1.6"/><circle cx="564.9" cy="103.6" r="1.6"/><circle cx="564.9" cy="108.2" r="1.6"/><circle cx="547.6" cy="133.9" r="1.6"/><circle cx="561.4" cy="114.6" r="1.6"/><circle cx="554.2" cy="118.9" r="1.6"/><circle cx="590.1" cy="58.4" r="1.6"/><circle cx="539.5" cy="135.3" r="1.6"/><circle cx="568.8" cy="98.9" r="1.6"/><circle cx="582.2" cy="80.1" r="1.6"/>
</g>
<polyline points="510.0,179.0 631.6,37.8" fill="none" stroke="#1a1a1a" stroke-width="1.55"/>
<polyline points="530.0,164.0 616.8,61.6" fill="none" stroke="#aaa" stroke-width="1.2"/>
<polyline points="515.0,155.0 592.0,75.0" fill="none" stroke="#1a1a1a" stroke-width="1.3" stroke-dasharray="4.6 4.4"/>
<polyline points="539.5,152.0 553.5,136.5" fill="none" stroke="#1a1a1a" stroke-width="1.3" stroke-dasharray="4.6 4.4"/>
<rect x="484.5" y="0.4" width="199.89999999999998" height="181.6" fill="none" stroke="#5c5c5c" stroke-width="1.15"/>
<line x1="491.75" y1="182" x2="491.75" y2="186.3" stroke="#444" stroke-width="1"/>
<text x="491.40" y="196.5" font-size="7" text-anchor="middle" letter-spacing="-0.7" fill="#000">0</text>
<line x1="553.50" y1="182" x2="553.50" y2="186.3" stroke="#444" stroke-width="1"/>
<text x="553.15" y="196.5" font-size="7" text-anchor="middle" letter-spacing="-0.7" fill="#000">50</text>
<line x1="615.25" y1="182" x2="615.25" y2="186.3" stroke="#444" stroke-width="1"/>
<text x="614.90" y="196.5" font-size="7" text-anchor="middle" letter-spacing="-0.7" fill="#000">100</text>
<line x1="677.00" y1="182" x2="677.00" y2="186.3" stroke="#444" stroke-width="1"/>
<text x="676.65" y="196.5" font-size="7" text-anchor="middle" letter-spacing="-0.7" fill="#000">150</text>
<line x1="479.9" y1="175.30" x2="484.5" y2="175.30" stroke="#444" stroke-width="1"/>
<text x="474.65" y="175.30" font-size="7" text-anchor="middle" letter-spacing="-0.7" fill="#000" transform="rotate(-90 475 175.30)">0</text>
<line x1="479.9" y1="148.30" x2="484.5" y2="148.30" stroke="#444" stroke-width="1"/>
<text x="474.65" y="148.30" font-size="7" text-anchor="middle" letter-spacing="-0.7" fill="#000" transform="rotate(-90 475 148.30)">20</text>
<line x1="479.9" y1="121.30" x2="484.5" y2="121.30" stroke="#444" stroke-width="1"/>
<text x="474.65" y="121.30" font-size="7" text-anchor="middle" letter-spacing="-0.7" fill="#000" transform="rotate(-90 475 121.30)">40</text>
<line x1="479.9" y1="94.30" x2="484.5" y2="94.30" stroke="#444" stroke-width="1"/>
<text x="474.65" y="94.30" font-size="7" text-anchor="middle" letter-spacing="-0.7" fill="#000" transform="rotate(-90 475 94.30)">60</text>
<line x1="479.9" y1="67.30" x2="484.5" y2="67.30" stroke="#444" stroke-width="1"/>
<text x="474.65" y="67.30" font-size="7" text-anchor="middle" letter-spacing="-0.7" fill="#000" transform="rotate(-90 475 67.30)">80</text>
<line x1="479.9" y1="40.30" x2="484.5" y2="40.30" stroke="#444" stroke-width="1"/>
<text x="474.65" y="40.30" font-size="7" text-anchor="middle" letter-spacing="-0.7" fill="#000" transform="rotate(-90 475 40.30)">100</text>
<line x1="479.9" y1="13.30" x2="484.5" y2="13.30" stroke="#444" stroke-width="1"/>
<text x="474.65" y="13.30" font-size="7" text-anchor="middle" letter-spacing="-0.7" fill="#000" transform="rotate(-90 475 13.30)">120</text>
<text x="580.9" y="208.8" font-size="8" text-anchor="middle" textLength="38.7" lengthAdjust="spacingAndGlyphs" fill="#0a0a0a">VeDBA AUC</text>
<text x="488.4" y="11.6" font-size="13" text-anchor="start" font-weight="bold" fill="#111">C</text>
<g fill="#b4b4b4">
<circle cx="632.4" cy="158.6" r="1.5"/><circle cx="643.6" cy="142.5" r="1.5"/><circle cx="637.5" cy="149.1" r="1.5"/><circle cx="639.6" cy="147.1" r="1.5"/><circle cx="639.3" cy="147.8" r="1.5"/><circle cx="652.2" cy="130.7" r="1.5"/><circle cx="627.6" cy="156.8" r="1.5"/><circle cx="644.6" cy="143.9" r="1.5"/><circle cx="634.0" cy="150.4" r="1.5"/><circle cx="633.5" cy="154.3" r="1.5"/><circle cx="640.5" cy="145.8" r="1.5"/><circle cx="649.3" cy="136.6" r="1.5"/><circle cx="623.9" cy="162.6" r="1.5"/><circle cx="643.7" cy="146.3" r="1.5"/><circle cx="640.8" cy="148.3" r="1.5"/><circle cx="628.1" cy="164.3" r="1.5"/><circle cx="651.5" cy="136.8" r="1.5"/><circle cx="649.0" cy="133.8" r="1.5"/><circle cx="622.3" cy="160.0" r="1.5"/><circle cx="650.2" cy="135.7" r="1.5"/><circle cx="640.2" cy="150.9" r="1.5"/><circle cx="638.3" cy="152.9" r="1.5"/><circle cx="646.4" cy="137.8" r="1.5"/><circle cx="638.1" cy="149.4" r="1.5"/><circle cx="639.7" cy="148.5" r="1.5"/><circle cx="643.5" cy="137.7" r="1.5"/><circle cx="644.5" cy="139.8" r="1.5"/><circle cx="641.7" cy="143.3" r="1.5"/><circle cx="630.2" cy="164.1" r="1.5"/><circle cx="643.4" cy="141.2" r="1.5"/><circle cx="633.7" cy="159.8" r="1.5"/><circle cx="637.8" cy="150.1" r="1.5"/><circle cx="624.9" cy="161.1" r="1.5"/><circle cx="640.6" cy="153.1" r="1.5"/><circle cx="625.1" cy="163.0" r="1.5"/><circle cx="650.1" cy="136.7" r="1.5"/><circle cx="633.3" cy="160.6" r="1.5"/><circle cx="634.6" cy="152.5" r="1.5"/><circle cx="632.5" cy="153.1" r="1.5"/><circle cx="648.0" cy="140.5" r="1.5"/><circle cx="626.5" cy="164.3" r="1.5"/><circle cx="633.6" cy="151.7" r="1.5"/><circle cx="632.6" cy="153.3" r="1.5"/><circle cx="639.7" cy="146.6" r="1.5"/><circle cx="642.4" cy="147.1" r="1.5"/><circle cx="632.7" cy="155.6" r="1.5"/><circle cx="640.0" cy="149.2" r="1.5"/><circle cx="637.9" cy="154.8" r="1.5"/><circle cx="643.1" cy="147.2" r="1.5"/><circle cx="639.4" cy="152.3" r="1.5"/><circle cx="634.9" cy="157.3" r="1.5"/><circle cx="632.7" cy="151.7" r="1.5"/><circle cx="642.3" cy="148.1" r="1.5"/><circle cx="654.0" cy="130.9" r="1.5"/><circle cx="632.8" cy="155.9" r="1.5"/><circle cx="636.4" cy="148.6" r="1.5"/><circle cx="643.7" cy="138.2" r="1.5"/><circle cx="625.4" cy="162.2" r="1.5"/><circle cx="635.8" cy="152.4" r="1.5"/><circle cx="651.8" cy="129.3" r="1.5"/><circle cx="637.7" cy="147.9" r="1.5"/><circle cx="644.1" cy="140.5" r="1.5"/><circle cx="636.7" cy="153.4" r="1.5"/><circle cx="643.5" cy="142.2" r="1.5"/><circle cx="637.7" cy="149.7" r="1.5"/><circle cx="630.4" cy="163.2" r="1.5"/><circle cx="644.1" cy="141.3" r="1.5"/><circle cx="626.9" cy="165.3" r="1.5"/><circle cx="649.6" cy="132.4" r="1.5"/><circle cx="657.1" cy="127.1" r="1.5"/><circle cx="656.4" cy="127.4" r="1.5"/><circle cx="650.7" cy="134.6" r="1.5"/><circle cx="656.8" cy="125.1" r="1.5"/><circle cx="649.2" cy="132.9" r="1.5"/><circle cx="661.0" cy="120.5" r="1.5"/><circle cx="665.9" cy="113.9" r="1.5"/><circle cx="654.2" cy="132.8" r="1.5"/><circle cx="656.4" cy="129.7" r="1.5"/><circle cx="651.4" cy="129.7" r="1.5"/><circle cx="657.8" cy="127.2" r="1.5"/><circle cx="646.7" cy="137.6" r="1.5"/><circle cx="646.2" cy="141.1" r="1.5"/><circle cx="645.0" cy="139.7" r="1.5"/><circle cx="641.2" cy="141.5" r="1.5"/><circle cx="645.8" cy="143.1" r="1.5"/><circle cx="657.6" cy="126.8" r="1.5"/><circle cx="656.6" cy="123.2" r="1.5"/><circle cx="622.1" cy="164.0" r="1.5"/><circle cx="624.7" cy="164.7" r="1.5"/><circle cx="626.9" cy="160.1" r="1.5"/><circle cx="627.1" cy="162.3" r="1.5"/><circle cx="628.9" cy="163.0" r="1.5"/><circle cx="632.3" cy="161.2" r="1.5"/><circle cx="628.6" cy="160.5" r="1.5"/><circle cx="664.8" cy="120.6" r="1.5"/><circle cx="659.3" cy="126.8" r="1.5"/><circle cx="639.5" cy="146.7" r="1.5"/><circle cx="637.5" cy="145.6" r="1.5"/><circle cx="645.2" cy="143.5" r="1.5"/><circle cx="646.3" cy="141.3" r="1.5"/><circle cx="652.8" cy="138.4" r="1.5"/>
</g>
<g fill="#1a1a1a">
<circle cx="674.3" cy="103.8" r="1.5"/><circle cx="676.4" cy="100.8" r="1.5"/><circle cx="677.5" cy="100.8" r="1.5"/><circle cx="669.6" cy="105.9" r="1.5"/><circle cx="672.3" cy="105.0" r="1.5"/><circle cx="669.6" cy="107.9" r="1.5"/><circle cx="667.9" cy="106.5" r="1.5"/><circle cx="673.1" cy="104.5" r="1.5"/><circle cx="671.1" cy="107.1" r="1.5"/><circle cx="670.5" cy="106.2" r="1.5"/><circle cx="672.7" cy="103.6" r="1.5"/><circle cx="666.0" cy="111.7" r="1.5"/><circle cx="669.1" cy="105.3" r="1.5"/><circle cx="672.3" cy="104.2" r="1.5"/><circle cx="675.5" cy="102.2" r="1.5"/><circle cx="667.0" cy="107.9" r="1.5"/><circle cx="669.1" cy="108.8" r="1.5"/><circle cx="665.6" cy="110.5" r="1.5"/><circle cx="661.9" cy="112.1" r="1.5"/><circle cx="665.9" cy="110.6" r="1.5"/><circle cx="660.5" cy="115.0" r="1.5"/><circle cx="663.8" cy="113.4" r="1.5"/><circle cx="656.8" cy="118.7" r="1.5"/><circle cx="657.5" cy="120.9" r="1.5"/><circle cx="649.6" cy="127.2" r="1.5"/><circle cx="649.0" cy="129.5" r="1.5"/><circle cx="659.0" cy="117.1" r="1.5"/><circle cx="657.6" cy="118.9" r="1.5"/><circle cx="662.1" cy="116.3" r="1.5"/><circle cx="663.0" cy="114.1" r="1.5"/><circle cx="655.6" cy="120.9" r="1.5"/><circle cx="660.2" cy="115.0" r="1.5"/><circle cx="666.4" cy="111.8" r="1.5"/><circle cx="660.3" cy="117.5" r="1.5"/><circle cx="655.3" cy="121.4" r="1.5"/><circle cx="654.0" cy="123.5" r="1.5"/><circle cx="650.0" cy="126.2" r="1.5"/><circle cx="646.4" cy="130.4" r="1.5"/><circle cx="631.1" cy="148.6" r="1.5"/><circle cx="627.6" cy="154.4" r="1.5"/><circle cx="636.0" cy="144.6" r="1.5"/><circle cx="640.5" cy="137.8" r="1.5"/><circle cx="634.7" cy="146.8" r="1.5"/><circle cx="631.3" cy="150.8" r="1.5"/><circle cx="638.2" cy="141.8" r="1.5"/><circle cx="641.6" cy="139.2" r="1.5"/><circle cx="632.9" cy="147.3" r="1.5"/><circle cx="638.9" cy="140.6" r="1.5"/><circle cx="643.1" cy="136.6" r="1.5"/><circle cx="633.9" cy="146.5" r="1.5"/><circle cx="630.8" cy="151.4" r="1.5"/><circle cx="636.1" cy="142.1" r="1.5"/><circle cx="638.9" cy="142.9" r="1.5"/><circle cx="641.8" cy="136.1" r="1.5"/><circle cx="626.3" cy="155.1" r="1.5"/><circle cx="629.0" cy="150.2" r="1.5"/><circle cx="630.4" cy="151.6" r="1.5"/><circle cx="637.9" cy="143.9" r="1.5"/><circle cx="640.3" cy="140.7" r="1.5"/><circle cx="631.4" cy="150.8" r="1.5"/><circle cx="642.8" cy="133.9" r="1.5"/><circle cx="639.9" cy="138.4" r="1.5"/><circle cx="639.0" cy="139.9" r="1.5"/><circle cx="636.9" cy="141.7" r="1.5"/><circle cx="643.3" cy="137.3" r="1.5"/><circle cx="626.5" cy="155.5" r="1.5"/><circle cx="639.5" cy="140.0" r="1.5"/><circle cx="640.1" cy="140.1" r="1.5"/><circle cx="636.5" cy="142.1" r="1.5"/><circle cx="632.4" cy="146.9" r="1.5"/><circle cx="639.5" cy="138.7" r="1.5"/><circle cx="633.0" cy="148.4" r="1.5"/><circle cx="635.7" cy="145.0" r="1.5"/><circle cx="638.4" cy="142.2" r="1.5"/><circle cx="630.8" cy="151.9" r="1.5"/><circle cx="637.7" cy="140.1" r="1.5"/><circle cx="633.9" cy="145.7" r="1.5"/><circle cx="638.9" cy="141.0" r="1.5"/><circle cx="630.0" cy="149.1" r="1.5"/><circle cx="642.1" cy="136.2" r="1.5"/><circle cx="640.8" cy="140.1" r="1.5"/><circle cx="635.6" cy="146.3" r="1.5"/><circle cx="641.1" cy="139.9" r="1.5"/><circle cx="644.0" cy="134.9" r="1.5"/><circle cx="647.3" cy="130.6" r="1.5"/><circle cx="642.8" cy="137.9" r="1.5"/><circle cx="638.0" cy="141.2" r="1.5"/><circle cx="635.1" cy="145.6" r="1.5"/><circle cx="630.2" cy="152.9" r="1.5"/><circle cx="643.4" cy="134.9" r="1.5"/><circle cx="625.9" cy="154.9" r="1.5"/><circle cx="639.2" cy="140.4" r="1.5"/><circle cx="645.0" cy="134.5" r="1.5"/><circle cx="633.9" cy="147.3" r="1.5"/><circle cx="647.0" cy="131.6" r="1.5"/><circle cx="650.9" cy="127.6" r="1.5"/><circle cx="650.8" cy="124.4" r="1.5"/><circle cx="644.6" cy="132.8" r="1.5"/><circle cx="648.6" cy="129.7" r="1.5"/><circle cx="649.9" cy="126.5" r="1.5"/><circle cx="651.3" cy="124.2" r="1.5"/><circle cx="649.0" cy="127.2" r="1.5"/><circle cx="646.8" cy="130.1" r="1.5"/><circle cx="650.0" cy="127.5" r="1.5"/><circle cx="648.2" cy="128.3" r="1.5"/><circle cx="649.5" cy="128.8" r="1.5"/><circle cx="652.5" cy="127.5" r="1.5"/><circle cx="651.0" cy="126.4" r="1.5"/><circle cx="650.7" cy="129.0" r="1.5"/><circle cx="652.2" cy="125.7" r="1.5"/><circle cx="613.4" cy="171.7" r="1.5"/><circle cx="619.4" cy="163.1" r="1.5"/><circle cx="622.5" cy="158.3" r="1.5"/><circle cx="624.8" cy="158.3" r="1.5"/><circle cx="625.1" cy="155.1" r="1.5"/><circle cx="632.0" cy="150.8" r="1.5"/><circle cx="636.5" cy="144.4" r="1.5"/><circle cx="622.5" cy="156.7" r="1.5"/><circle cx="627.0" cy="155.8" r="1.5"/><circle cx="629.6" cy="153.9" r="1.5"/>
</g>
<g fill="#fff" stroke="#2a2a2a" stroke-width="0.55">
<circle cx="626.5" cy="164.0" r="1.25"/><circle cx="623.7" cy="164.7" r="1.25"/><circle cx="629.1" cy="156.9" r="1.25"/><circle cx="615.0" cy="168.4" r="1.25"/><circle cx="627.2" cy="159.2" r="1.25"/><circle cx="655.6" cy="152.0" r="1.25"/><circle cx="631.7" cy="153.6" r="1.25"/><circle cx="632.9" cy="156.4" r="1.25"/><circle cx="630.2" cy="154.9" r="1.25"/><circle cx="631.7" cy="151.0" r="1.25"/><circle cx="633.8" cy="153.8" r="1.25"/><circle cx="643.5" cy="150.5" r="1.25"/><circle cx="630.8" cy="157.9" r="1.25"/><circle cx="634.4" cy="148.7" r="1.25"/><circle cx="636.6" cy="146.5" r="1.25"/><circle cx="632.2" cy="155.7" r="1.25"/><circle cx="628.9" cy="157.4" r="1.25"/><circle cx="635.2" cy="149.8" r="1.25"/><circle cx="636.1" cy="152.5" r="1.25"/><circle cx="633.3" cy="152.4" r="1.25"/><circle cx="639.9" cy="145.7" r="1.25"/><circle cx="634.2" cy="151.0" r="1.25"/><circle cx="638.6" cy="148.0" r="1.25"/><circle cx="632.0" cy="145.5" r="1.25"/><circle cx="640.9" cy="146.2" r="1.25"/><circle cx="640.9" cy="144.6" r="1.25"/><circle cx="632.2" cy="153.4" r="1.25"/><circle cx="639.1" cy="147.3" r="1.25"/><circle cx="635.5" cy="148.6" r="1.25"/><circle cx="653.5" cy="133.9" r="1.25"/><circle cx="628.1" cy="159.1" r="1.25"/><circle cx="642.9" cy="144.4" r="1.25"/><circle cx="649.6" cy="136.1" r="1.25"/>
</g>
<path d="M604.1 175.2H679" stroke="#444" stroke-width="0.8" fill="none"/>
<line x1="604.10" y1="175" x2="604.10" y2="177.2" stroke="#444" stroke-width="0.7"/>
<text x="604.1" y="180.7" font-size="5.3" text-anchor="middle" textLength="2.6" lengthAdjust="spacingAndGlyphs" fill="#0a0a0a">0</text>
<line x1="616.52" y1="175" x2="616.52" y2="177.2" stroke="#444" stroke-width="0.7"/>
<text x="616.52" y="180.7" font-size="5.3" text-anchor="middle" textLength="5.2" lengthAdjust="spacingAndGlyphs" fill="#0a0a0a">20</text>
<line x1="628.94" y1="175" x2="628.94" y2="177.2" stroke="#444" stroke-width="0.7"/>
<text x="628.94" y="180.7" font-size="5.3" text-anchor="middle" textLength="5.2" lengthAdjust="spacingAndGlyphs" fill="#0a0a0a">40</text>
<line x1="641.36" y1="175" x2="641.36" y2="177.2" stroke="#444" stroke-width="0.7"/>
<text x="641.36" y="180.7" font-size="5.3" text-anchor="middle" textLength="5.2" lengthAdjust="spacingAndGlyphs" fill="#0a0a0a">60</text>
<line x1="653.78" y1="175" x2="653.78" y2="177.2" stroke="#444" stroke-width="0.7"/>
<text x="653.78" y="180.7" font-size="5.3" text-anchor="middle" textLength="5.2" lengthAdjust="spacingAndGlyphs" fill="#0a0a0a">80</text>
<line x1="666.20" y1="175" x2="666.20" y2="177.2" stroke="#444" stroke-width="0.7"/>
<text x="666.2" y="180.7" font-size="5.3" text-anchor="middle" textLength="7.8" lengthAdjust="spacingAndGlyphs" fill="#0a0a0a">100</text>
<line x1="678.62" y1="175" x2="678.62" y2="177.2" stroke="#444" stroke-width="0.7"/>
<text x="678.62" y="180.7" font-size="5.3" text-anchor="middle" textLength="7.8" lengthAdjust="spacingAndGlyphs" fill="#0a0a0a">120</text>
<path d="M605 108.7V163" stroke="#444" stroke-width="0.8" fill="none"/>
<line x1="602.5" y1="163.00" x2="605" y2="163.00" stroke="#444" stroke-width="0.7"/>
<text x="600.6" y="163.0" font-size="5.3" text-anchor="middle" transform="rotate(-90 600.6 163.0)" textLength="5.2" lengthAdjust="spacingAndGlyphs" fill="#0a0a0a">50</text>
<line x1="602.5" y1="144.90" x2="605" y2="144.90" stroke="#444" stroke-width="0.7"/>
<text x="600.6" y="144.9" font-size="5.3" text-anchor="middle" transform="rotate(-90 600.6 144.9)" textLength="7.8" lengthAdjust="spacingAndGlyphs" fill="#0a0a0a">100</text>
<line x1="602.5" y1="126.80" x2="605" y2="126.80" stroke="#444" stroke-width="0.7"/>
<text x="600.6" y="126.8" font-size="5.3" text-anchor="middle" transform="rotate(-90 600.6 126.8)" textLength="7.8" lengthAdjust="spacingAndGlyphs" fill="#0a0a0a">150</text>
<line x1="602.5" y1="108.70" x2="605" y2="108.70" stroke="#444" stroke-width="0.7"/>
<text x="600.6" y="108.7" font-size="5.3" text-anchor="middle" transform="rotate(-90 600.6 108.7)" textLength="7.8" lengthAdjust="spacingAndGlyphs" fill="#0a0a0a">200</text>
<text x="596" y="138.3" font-size="5.6" text-anchor="middle" transform="rotate(-90 596 138.3)" textLength="54.6" lengthAdjust="spacingAndGlyphs" fill="#0a0a0a">Swim duration (seconds)</text>
<text x="603" y="102.2" font-size="5.3" text-anchor="start" fill="#0a0a0a">H</text>
<g fill="#b4b4b4">
<circle cx="113.8" cy="352.7" r="1.9"/><circle cx="75.1" cy="324.1" r="1.9"/>
</g>
<g fill="#1a1a1a">
<circle cx="187.3" cy="365.6" r="1.9"/><circle cx="96.1" cy="360.6" r="1.9"/><circle cx="71.0" cy="327.6" r="1.9"/>
</g>
<g fill="#b4b4b4">
<circle cx="69.2" cy="300.9" r="1.9"/><circle cx="111.5" cy="341.0" r="1.9"/><circle cx="72.1" cy="319.7" r="1.9"/><circle cx="101.3" cy="342.6" r="1.9"/>
</g>
<g fill="#1a1a1a">
<circle cx="104.5" cy="354.7" r="1.9"/><circle cx="161.4" cy="365.4" r="1.9"/>
</g>
<g fill="#b4b4b4">
<circle cx="72.9" cy="317.7" r="1.9"/>
</g>
<g fill="#1a1a1a">
<circle cx="147.5" cy="362.0" r="1.9"/>
</g>
<g fill="#b4b4b4">
<circle cx="68.6" cy="343.5" r="1.9"/><circle cx="116.1" cy="359.2" r="1.9"/><circle cx="69.0" cy="326.9" r="1.9"/><circle cx="122.0" cy="355.0" r="1.9"/><circle cx="94.4" cy="326.1" r="1.9"/><circle cx="112.0" cy="346.6" r="1.9"/>
</g>
<g fill="#1a1a1a">
<circle cx="146.4" cy="364.7" r="1.9"/><circle cx="128.8" cy="351.2" r="1.9"/><circle cx="99.8" cy="356.5" r="1.9"/>
</g>
<g fill="#b4b4b4">
<circle cx="97.0" cy="341.3" r="1.9"/><circle cx="82.8" cy="334.9" r="1.9"/><circle cx="70.9" cy="336.7" r="1.9"/>
</g>
<g fill="#1a1a1a">
<circle cx="195.5" cy="363.0" r="1.9"/><circle cx="130.8" cy="365.9" r="1.9"/><circle cx="117.5" cy="355.6" r="1.9"/>
</g>
<g fill="#b4b4b4">
<circle cx="76.1" cy="328.9" r="1.9"/><circle cx="91.9" cy="340.6" r="1.9"/><circle cx="77.3" cy="333.0" r="1.9"/>
</g>
<g fill="#1a1a1a">
<circle cx="114.8" cy="366.3" r="1.9"/>
</g>
<g fill="#b4b4b4">
<circle cx="83.9" cy="337.7" r="1.9"/>
</g>
<g fill="#1a1a1a">
<circle cx="106.7" cy="362.5" r="1.9"/>
</g>
<g fill="#b4b4b4">
<circle cx="103.7" cy="339.3" r="1.9"/>
</g>
<g fill="#1a1a1a">
<circle cx="144.5" cy="364.6" r="1.9"/><circle cx="123.8" cy="359.8" r="1.9"/><circle cx="87.4" cy="340.9" r="1.9"/><circle cx="96.1" cy="341.9" r="1.9"/>
</g>
<g fill="#b4b4b4">
<circle cx="66.5" cy="316.7" r="1.9"/><circle cx="125.3" cy="359.0" r="1.9"/><circle cx="96.0" cy="339.7" r="1.9"/>
</g>
<g fill="#1a1a1a">
<circle cx="89.8" cy="347.9" r="1.9"/><circle cx="198.3" cy="369.4" r="1.9"/><circle cx="116.3" cy="360.3" r="1.9"/>
</g>
<g fill="#b4b4b4">
<circle cx="115.8" cy="351.6" r="1.9"/><circle cx="144.7" cy="367.1" r="1.9"/>
</g>
<g fill="#1a1a1a">
<circle cx="84.1" cy="336.3" r="1.9"/>
</g>
<g fill="#b4b4b4">
<circle cx="99.1" cy="348.5" r="1.9"/><circle cx="132.8" cy="359.4" r="1.9"/><circle cx="117.3" cy="347.8" r="1.9"/>
</g>
<g fill="#1a1a1a">
<circle cx="128.7" cy="363.3" r="1.9"/><circle cx="198.3" cy="372.9" r="1.9"/>
</g>
<g fill="#b4b4b4">
<circle cx="145.2" cy="364.4" r="1.9"/>
</g>
<g fill="#1a1a1a">
<circle cx="145.9" cy="361.2" r="1.9"/>
</g>
<g fill="#b4b4b4">
<circle cx="88.0" cy="331.0" r="1.9"/>
</g>
<g fill="#1a1a1a">
<circle cx="175.4" cy="363.9" r="1.9"/>
</g>
<g fill="#b4b4b4">
<circle cx="86.4" cy="356.5" r="1.9"/><circle cx="158.2" cy="367.1" r="1.9"/><circle cx="90.8" cy="328.6" r="1.9"/><circle cx="72.7" cy="322.3" r="1.9"/>
</g>
<g fill="#1a1a1a">
<circle cx="141.2" cy="368.9" r="1.9"/><circle cx="94.6" cy="362.8" r="1.9"/><circle cx="112.3" cy="357.9" r="1.9"/><circle cx="178.6" cy="366.0" r="1.9"/><circle cx="137.4" cy="360.1" r="1.9"/><circle cx="101.1" cy="348.3" r="1.9"/><circle cx="144.5" cy="364.8" r="1.9"/>
</g>
<g fill="#b4b4b4">
<circle cx="99.6" cy="344.5" r="1.9"/><circle cx="145.2" cy="358.7" r="1.9"/><circle cx="136.8" cy="364.6" r="1.9"/><circle cx="113.2" cy="346.6" r="1.9"/><circle cx="104.5" cy="340.1" r="1.9"/>
</g>
<g fill="#1a1a1a">
<circle cx="182.0" cy="369.6" r="1.9"/><circle cx="118.0" cy="364.4" r="1.9"/><circle cx="110.3" cy="360.0" r="1.9"/>
</g>
<g fill="#b4b4b4">
<circle cx="121.6" cy="352.1" r="1.9"/><circle cx="123.2" cy="355.7" r="1.9"/>
</g>
<g fill="#1a1a1a">
<circle cx="169.3" cy="371.8" r="1.9"/><circle cx="113.8" cy="358.7" r="1.9"/><circle cx="118.2" cy="359.5" r="1.9"/><circle cx="113.9" cy="365.5" r="1.9"/><circle cx="191.4" cy="366.3" r="1.9"/>
</g>
<g fill="#b4b4b4">
<circle cx="144.5" cy="362.7" r="1.9"/>
</g>
<g fill="#1a1a1a">
<circle cx="190.8" cy="369.6" r="1.9"/><circle cx="104.9" cy="360.0" r="1.9"/><circle cx="103.3" cy="356.3" r="1.9"/>
</g>
<g fill="#b4b4b4">
<circle cx="118.9" cy="352.0" r="1.9"/>
</g>
<g fill="#1a1a1a">
<circle cx="143.8" cy="366.1" r="1.9"/><circle cx="86.6" cy="353.8" r="1.9"/>
</g>
<g fill="#b4b4b4">
<circle cx="92.8" cy="343.4" r="1.9"/><circle cx="75.0" cy="311.8" r="1.9"/>
</g>
<g fill="#1a1a1a">
<circle cx="125.9" cy="357.6" r="1.9"/><circle cx="164.2" cy="365.9" r="1.9"/>
</g>
<g fill="#b4b4b4">
<circle cx="99.4" cy="345.5" r="1.9"/>
</g>
<g fill="#1a1a1a">
<circle cx="122.6" cy="370.0" r="1.9"/>
</g>
<g fill="#b4b4b4">
<circle cx="104.7" cy="352.7" r="1.9"/>
</g>
<g fill="#1a1a1a">
<circle cx="172.6" cy="362.9" r="1.9"/><circle cx="156.3" cy="364.1" r="1.9"/>
</g>
<g fill="#b4b4b4">
<circle cx="127.1" cy="358.6" r="1.9"/>
</g>
<g fill="#1a1a1a">
<circle cx="109.3" cy="343.3" r="1.9"/><circle cx="157.3" cy="364.6" r="1.9"/>
</g>
<g fill="#b4b4b4">
<circle cx="92.7" cy="352.1" r="1.9"/><circle cx="101.7" cy="350.4" r="1.9"/><circle cx="123.0" cy="355.1" r="1.9"/>
</g>
<g fill="#1a1a1a">
<circle cx="183.9" cy="365.7" r="1.9"/><circle cx="122.9" cy="359.9" r="1.9"/>
</g>
<g fill="#b4b4b4">
<circle cx="133.0" cy="359.1" r="1.9"/><circle cx="105.4" cy="344.8" r="1.9"/>
</g>
<g fill="#1a1a1a">
<circle cx="104.2" cy="355.1" r="1.9"/>
</g>
<g fill="#b4b4b4">
<circle cx="80.3" cy="330.2" r="1.9"/><circle cx="117.2" cy="345.4" r="1.9"/><circle cx="102.3" cy="352.3" r="1.9"/>
</g>
<g fill="#1a1a1a">
<circle cx="165.1" cy="363.3" r="1.9"/>
</g>
<g fill="#b4b4b4">
<circle cx="98.3" cy="349.7" r="1.9"/><circle cx="125.1" cy="355.1" r="1.9"/>
</g>
<g fill="#1a1a1a">
<circle cx="176.0" cy="364.6" r="1.9"/>
</g>
<g fill="#b4b4b4">
<circle cx="144.0" cy="363.0" r="1.9"/><circle cx="91.1" cy="350.6" r="1.9"/>
</g>
<g fill="#1a1a1a">
<circle cx="171.3" cy="365.5" r="1.9"/>
</g>
<g fill="#b4b4b4">
<circle cx="71.2" cy="305.5" r="1.9"/><circle cx="103.6" cy="345.3" r="1.9"/>
</g>
<g fill="#1a1a1a">
<circle cx="118.1" cy="369.1" r="1.9"/>
</g>
<g fill="#b4b4b4">
<circle cx="106.8" cy="342.6" r="1.9"/><circle cx="139.3" cy="363.7" r="1.9"/>
</g>
<g fill="#1a1a1a">
<circle cx="150.1" cy="361.6" r="1.9"/><circle cx="157.3" cy="367.2" r="1.9"/>
</g>
<g fill="#b4b4b4">
<circle cx="77.8" cy="339.0" r="1.9"/>
</g>
<g fill="#1a1a1a">
<circle cx="183.9" cy="365.2" r="1.9"/><circle cx="106.5" cy="362.6" r="1.9"/>
</g>
<g fill="#b4b4b4">
<circle cx="171.7" cy="367.1" r="1.9"/><circle cx="137.3" cy="360.5" r="1.9"/>
</g>
<g fill="#1a1a1a">
<circle cx="129.4" cy="358.0" r="1.9"/><circle cx="189.9" cy="369.3" r="1.9"/>
</g>
<g fill="#b4b4b4">
<circle cx="131.0" cy="360.3" r="1.9"/><circle cx="67.7" cy="322.3" r="1.9"/><circle cx="122.7" cy="358.3" r="1.9"/>
</g>
<g fill="#1a1a1a">
<circle cx="94.0" cy="343.4" r="1.9"/><circle cx="161.9" cy="369.9" r="1.9"/><circle cx="115.8" cy="360.8" r="1.9"/>
</g>
<g fill="#b4b4b4">
<circle cx="97.7" cy="344.8" r="1.9"/><circle cx="148.7" cy="364.9" r="1.9"/>
</g>
<g fill="#1a1a1a">
<circle cx="118.1" cy="359.8" r="1.9"/>
</g>
<g fill="#b4b4b4">
<circle cx="85.8" cy="333.8" r="1.9"/><circle cx="118.8" cy="353.6" r="1.9"/>
</g>
<g fill="#1a1a1a">
<circle cx="114.5" cy="363.4" r="1.9"/><circle cx="116.8" cy="362.1" r="1.9"/><circle cx="150.5" cy="364.7" r="1.9"/>
</g>
<g fill="#b4b4b4">
<circle cx="115.1" cy="352.6" r="1.9"/><circle cx="94.3" cy="341.2" r="1.9"/><circle cx="129.4" cy="357.9" r="1.9"/>
</g>
<g fill="#1a1a1a">
<circle cx="105.4" cy="361.5" r="1.9"/>
</g>
<g fill="#b4b4b4">
<circle cx="152.7" cy="366.7" r="1.9"/>
</g>
<g fill="#1a1a1a">
<circle cx="135.5" cy="363.5" r="1.9"/><circle cx="97.5" cy="358.2" r="1.9"/><circle cx="188.0" cy="368.8" r="1.9"/><circle cx="125.2" cy="360.1" r="1.9"/><circle cx="152.0" cy="365.0" r="1.9"/>
</g>
<g fill="#b4b4b4">
<circle cx="77.2" cy="333.5" r="1.9"/>
</g>
<g fill="#1a1a1a">
<circle cx="119.9" cy="353.1" r="1.9"/>
</g>
<g fill="#b4b4b4">
<circle cx="111.2" cy="345.8" r="1.9"/>
</g>
<g fill="#1a1a1a">
<circle cx="166.6" cy="370.1" r="1.9"/><circle cx="186.7" cy="363.3" r="1.9"/><circle cx="138.4" cy="366.0" r="1.9"/><circle cx="80.8" cy="327.2" r="1.9"/><circle cx="192.7" cy="366.5" r="1.9"/><circle cx="143.8" cy="361.6" r="1.9"/>
</g>
<g fill="#b4b4b4">
<circle cx="100.6" cy="336.7" r="1.9"/>
</g>
<g fill="#1a1a1a">
<circle cx="139.8" cy="367.3" r="1.9"/><circle cx="108.0" cy="361.9" r="1.9"/>
</g>
<g fill="#b4b4b4">
<circle cx="88.9" cy="347.3" r="1.9"/><circle cx="100.9" cy="343.8" r="1.9"/><circle cx="76.4" cy="316.0" r="1.9"/><circle cx="71.3" cy="327.5" r="1.9"/>
</g>
<g fill="#1a1a1a">
<circle cx="189.1" cy="369.4" r="1.9"/><circle cx="103.4" cy="355.5" r="1.9"/><circle cx="133.1" cy="361.6" r="1.9"/><circle cx="185.4" cy="366.1" r="1.9"/><circle cx="87.7" cy="342.8" r="1.9"/><circle cx="113.9" cy="363.0" r="1.9"/><circle cx="139.3" cy="364.9" r="1.9"/>
</g>
<g fill="#b4b4b4">
<circle cx="133.9" cy="358.4" r="1.9"/><circle cx="110.3" cy="347.3" r="1.9"/><circle cx="139.3" cy="361.2" r="1.9"/><circle cx="106.3" cy="355.9" r="1.9"/>
</g>
<g fill="#1a1a1a">
<circle cx="86.0" cy="334.6" r="1.9"/>
</g>
<g fill="#b4b4b4">
<circle cx="68.7" cy="316.1" r="1.9"/>
</g>
<g fill="#1a1a1a">
<circle cx="53.5" cy="295.0" r="1.9"/><circle cx="121.0" cy="361.2" r="1.9"/><circle cx="140.8" cy="364.7" r="1.9"/><circle cx="91.9" cy="350.8" r="1.9"/>
</g>
<g fill="#b4b4b4">
<circle cx="115.7" cy="349.2" r="1.9"/>
</g>
<g fill="#1a1a1a">
<circle cx="175.8" cy="369.4" r="1.9"/><circle cx="143.6" cy="363.5" r="1.9"/><circle cx="121.6" cy="359.1" r="1.9"/><circle cx="142.2" cy="366.1" r="1.9"/>
</g>
<g fill="#b4b4b4">
<circle cx="91.4" cy="360.9" r="1.9"/>
</g>
<g fill="#1a1a1a">
<circle cx="118.5" cy="349.4" r="1.9"/><circle cx="192.3" cy="370.9" r="1.9"/><circle cx="80.8" cy="343.6" r="1.9"/><circle cx="88.8" cy="347.0" r="1.9"/><circle cx="137.8" cy="362.4" r="1.9"/><circle cx="146.0" cy="363.2" r="1.9"/><circle cx="118.5" cy="359.5" r="1.9"/>
</g>
<g fill="#b4b4b4">
<circle cx="93.0" cy="335.3" r="1.9"/><circle cx="140.1" cy="365.3" r="1.9"/>
</g>
<g fill="#1a1a1a">
<circle cx="108.8" cy="357.8" r="1.9"/>
</g>
<g fill="#b4b4b4">
<circle cx="115.6" cy="352.7" r="1.9"/>
</g>
<g fill="#1a1a1a">
<circle cx="178.3" cy="366.6" r="1.9"/>
</g>
<g fill="#b4b4b4">
<circle cx="103.9" cy="343.5" r="1.9"/>
</g>
<g fill="#1a1a1a">
<circle cx="87.3" cy="345.7" r="1.9"/>
</g>
<g fill="#b4b4b4">
<circle cx="124.8" cy="363.2" r="1.9"/>
</g>
<g fill="#1a1a1a">
<circle cx="117.1" cy="361.7" r="1.9"/><circle cx="96.2" cy="354.5" r="1.9"/><circle cx="169.3" cy="368.6" r="1.9"/><circle cx="126.1" cy="370.0" r="1.9"/>
</g>
<g fill="#b4b4b4">
<circle cx="157.8" cy="354.5" r="1.9"/><circle cx="91.5" cy="335.5" r="1.9"/>
</g>
<g fill="#1a1a1a">
<circle cx="100.6" cy="357.6" r="1.9"/><circle cx="95.0" cy="353.5" r="1.9"/>
</g>
<g fill="#b4b4b4">
<circle cx="102.2" cy="338.0" r="1.9"/>
</g>
<g fill="none" stroke="#2a2a2a" stroke-width="0.75">
<circle cx="69.2" cy="249.8" r="1.6"/><circle cx="67.7" cy="261.4" r="1.6"/><circle cx="83.8" cy="262.5" r="1.6"/><circle cx="60.2" cy="267.0" r="1.6"/><circle cx="79.0" cy="268.0" r="1.6"/><circle cx="93.7" cy="277.5" r="1.6"/><circle cx="90.6" cy="282.0" r="1.6"/><circle cx="84.8" cy="283.1" r="1.6"/><circle cx="87.9" cy="288.0" r="1.6"/><circle cx="95.8" cy="292.6" r="1.6"/><circle cx="90.0" cy="295.7" r="1.6"/><circle cx="96.7" cy="295.7" r="1.6"/><circle cx="81.7" cy="296.8" r="1.6"/><circle cx="100.4" cy="297.8" r="1.6"/><circle cx="105.0" cy="303.1" r="1.6"/><circle cx="86.3" cy="305.9" r="1.6"/><circle cx="82.7" cy="307.6" r="1.6"/><circle cx="98.3" cy="309.7" r="1.6"/><circle cx="92.7" cy="316.0" r="1.6"/><circle cx="92.9" cy="316.7" r="1.6"/><circle cx="106.7" cy="317.4" r="1.6"/><circle cx="95.8" cy="319.5" r="1.6"/><circle cx="101.9" cy="321.6" r="1.6"/><circle cx="107.1" cy="323.0" r="1.6"/><circle cx="105.6" cy="325.1" r="1.6"/><circle cx="108.8" cy="325.8" r="1.6"/><circle cx="90.8" cy="329.3" r="1.6"/><circle cx="103.3" cy="330.0" r="1.6"/><circle cx="100.8" cy="330.7" r="1.6"/><circle cx="130.8" cy="331.4" r="1.6"/><circle cx="79.2" cy="332.8" r="1.6"/><circle cx="109.2" cy="334.6" r="1.6"/><circle cx="126.2" cy="338.8" r="1.6"/>
</g>
<polyline points="53.1,329.3 56.9,331.2 60.6,333.0 64.3,334.8 68.0,336.5 71.8,338.1 75.5,339.8 79.2,341.3 83.0,342.9 86.7,344.4 90.4,345.8 94.2,347.2 97.9,348.6 101.6,349.9 105.4,351.2 109.1,352.5 112.8,353.7 116.6,354.9 120.3,356.0 124.0,357.2 127.8,358.3 131.5,359.3 135.2,360.4 139.0,361.4 142.7,362.3 146.4,363.3 150.2,364.2 153.9,365.1 157.6,366.0 161.4,366.8 165.1,367.7 168.8,368.5 172.6,369.2 176.3,370.0 180.0,370.7 183.7,371.5 187.5,372.1 191.2,372.8 194.9,373.5 198.7,374.1" fill="none" stroke="#1a1a1a" stroke-width="1.55"/>
<polyline points="65.3,318.1 68.6,320.6 71.9,323.0 75.1,325.3 78.4,327.5 81.7,329.6 84.9,331.7 88.2,333.8 91.5,335.7 94.7,337.6 98.0,339.5 101.3,341.2 104.5,343.0 107.8,344.6 111.1,346.3 114.3,347.8 117.6,349.4 120.9,350.8 124.1,352.3 127.4,353.7 130.7,355.0 133.9,356.3 137.2,357.5 140.5,358.8 143.7,359.9 147.0,361.1 150.3,362.2 153.5,363.3 156.8,364.3 160.1,365.3" fill="none" stroke="#aaa" stroke-width="1.2"/>
<polyline points="59.0,254.0 61.5,258.6 63.9,263.1 66.4,267.5 68.9,271.7 71.4,275.8 73.9,279.7 76.4,283.5 78.9,287.2 81.4,290.8 83.9,294.2 86.4,297.6 88.9,300.8 91.3,303.9 93.8,306.9 96.3,309.9 98.8,312.7 101.3,315.4 103.8,318.1 106.3,320.6 108.8,323.1 111.3,325.5 113.8,327.8 116.2,330.1 118.7,332.2 121.2,334.3 123.7,336.4 126.2,338.3 128.7,340.2 131.2,342.1" fill="none" stroke="#1a1a1a" stroke-width="1.3" stroke-dasharray="4.6 4.4"/>
<rect x="26.75" y="214.8" width="200.75" height="188.7" fill="none" stroke="#5c5c5c" stroke-width="1.15"/>
<line x1="34.25" y1="403.5" x2="34.25" y2="407.8" stroke="#444" stroke-width="1"/>
<text x="33.90" y="418.3" font-size="7" text-anchor="middle" letter-spacing="-0.7" fill="#000">0</text>
<line x1="71.25" y1="403.5" x2="71.25" y2="407.8" stroke="#444" stroke-width="1"/>
<text x="70.90" y="418.3" font-size="7" text-anchor="middle" letter-spacing="-0.7" fill="#000">50</text>
<line x1="108.25" y1="403.5" x2="108.25" y2="407.8" stroke="#444" stroke-width="1"/>
<text x="107.90" y="418.3" font-size="7" text-anchor="middle" letter-spacing="-0.7" fill="#000">100</text>
<line x1="145.25" y1="403.5" x2="145.25" y2="407.8" stroke="#444" stroke-width="1"/>
<text x="144.90" y="418.3" font-size="7" text-anchor="middle" letter-spacing="-0.7" fill="#000">150</text>
<line x1="182.25" y1="403.5" x2="182.25" y2="407.8" stroke="#444" stroke-width="1"/>
<text x="181.90" y="418.3" font-size="7" text-anchor="middle" letter-spacing="-0.7" fill="#000">200</text>
<line x1="219.25" y1="403.5" x2="219.25" y2="407.8" stroke="#444" stroke-width="1"/>
<text x="218.90" y="418.3" font-size="7" text-anchor="middle" letter-spacing="-0.7" fill="#000">250</text>
<line x1="22.15" y1="396.50" x2="26.75" y2="396.50" stroke="#444" stroke-width="1"/>
<text x="16.65" y="396.50" font-size="7" text-anchor="middle" letter-spacing="-0.7" fill="#000" transform="rotate(-90 17 396.50)">0</text>
<line x1="22.15" y1="361.50" x2="26.75" y2="361.50" stroke="#444" stroke-width="1"/>
<text x="16.65" y="361.50" font-size="7" text-anchor="middle" letter-spacing="-0.7" fill="#000" transform="rotate(-90 17 361.50)">10</text>
<line x1="22.15" y1="326.50" x2="26.75" y2="326.50" stroke="#444" stroke-width="1"/>
<text x="16.65" y="326.50" font-size="7" text-anchor="middle" letter-spacing="-0.7" fill="#000" transform="rotate(-90 17 326.50)">20</text>
<line x1="22.15" y1="291.50" x2="26.75" y2="291.50" stroke="#444" stroke-width="1"/>
<text x="16.65" y="291.50" font-size="7" text-anchor="middle" letter-spacing="-0.7" fill="#000" transform="rotate(-90 17 291.50)">30</text>
<line x1="22.15" y1="256.50" x2="26.75" y2="256.50" stroke="#444" stroke-width="1"/>
<text x="16.65" y="256.50" font-size="7" text-anchor="middle" letter-spacing="-0.7" fill="#000" transform="rotate(-90 17 256.50)">40</text>
<line x1="22.15" y1="221.50" x2="26.75" y2="221.50" stroke="#444" stroke-width="1"/>
<text x="16.65" y="221.50" font-size="7" text-anchor="middle" letter-spacing="-0.7" fill="#000" transform="rotate(-90 17 221.50)">50</text>
<text x="124.1" y="430.5" font-size="8" text-anchor="middle" textLength="81" lengthAdjust="spacingAndGlyphs" fill="#0a0a0a">Swim duration (seconds)</text>
<text x="30" y="226.3" font-size="13" text-anchor="start" font-weight="bold" fill="#111">D</text>
<g fill="#b4b4b4">
<circle cx="369.1" cy="352.7" r="1.9"/><circle cx="357.9" cy="324.1" r="1.9"/>
</g>
<g fill="#1a1a1a">
<circle cx="315.1" cy="365.6" r="1.9"/><circle cx="325.2" cy="360.6" r="1.9"/><circle cx="329.3" cy="327.6" r="1.9"/>
</g>
<g fill="#b4b4b4">
<circle cx="388.2" cy="300.9" r="1.9"/><circle cx="370.4" cy="341.0" r="1.9"/><circle cx="372.7" cy="319.7" r="1.9"/><circle cx="371.0" cy="342.6" r="1.9"/>
</g>
<g fill="#1a1a1a">
<circle cx="328.5" cy="354.7" r="1.9"/><circle cx="325.6" cy="365.4" r="1.9"/>
</g>
<g fill="#b4b4b4">
<circle cx="365.1" cy="317.7" r="1.9"/>
</g>
<g fill="#1a1a1a">
<circle cx="326.9" cy="362.0" r="1.9"/>
</g>
<g fill="#b4b4b4">
<circle cx="371.4" cy="343.5" r="1.9"/><circle cx="370.9" cy="359.2" r="1.9"/><circle cx="350.3" cy="326.9" r="1.9"/><circle cx="370.2" cy="355.0" r="1.9"/><circle cx="358.3" cy="326.1" r="1.9"/><circle cx="359.4" cy="346.6" r="1.9"/>
</g>
<g fill="#1a1a1a">
<circle cx="310.9" cy="364.7" r="1.9"/><circle cx="319.9" cy="351.2" r="1.9"/><circle cx="325.4" cy="356.5" r="1.9"/>
</g>
<g fill="#b4b4b4">
<circle cx="368.1" cy="341.3" r="1.9"/><circle cx="378.8" cy="334.9" r="1.9"/><circle cx="364.3" cy="336.7" r="1.9"/>
</g>
<g fill="#1a1a1a">
<circle cx="330.3" cy="363.0" r="1.9"/><circle cx="316.2" cy="365.9" r="1.9"/><circle cx="322.3" cy="355.6" r="1.9"/>
</g>
<g fill="#b4b4b4">
<circle cx="356.4" cy="328.9" r="1.9"/><circle cx="371.5" cy="340.6" r="1.9"/><circle cx="355.5" cy="333.0" r="1.9"/>
</g>
<g fill="#1a1a1a">
<circle cx="323.4" cy="366.3" r="1.9"/>
</g>
<g fill="#b4b4b4">
<circle cx="376.9" cy="337.7" r="1.9"/>
</g>
<g fill="#1a1a1a">
<circle cx="329.5" cy="362.5" r="1.9"/>
</g>
<g fill="#b4b4b4">
<circle cx="376.0" cy="339.3" r="1.9"/>
</g>
<g fill="#1a1a1a">
<circle cx="327.0" cy="364.6" r="1.9"/><circle cx="315.5" cy="359.8" r="1.9"/><circle cx="328.9" cy="340.9" r="1.9"/><circle cx="337.0" cy="341.9" r="1.9"/>
</g>
<g fill="#b4b4b4">
<circle cx="349.6" cy="316.7" r="1.9"/><circle cx="369.3" cy="359.0" r="1.9"/><circle cx="348.8" cy="339.7" r="1.9"/>
</g>
<g fill="#1a1a1a">
<circle cx="307.2" cy="347.9" r="1.9"/><circle cx="316.2" cy="369.4" r="1.9"/><circle cx="324.2" cy="360.3" r="1.9"/>
</g>
<g fill="#b4b4b4">
<circle cx="369.4" cy="351.6" r="1.9"/><circle cx="375.5" cy="367.1" r="1.9"/>
</g>
<g fill="#1a1a1a">
<circle cx="308.8" cy="336.3" r="1.9"/>
</g>
<g fill="#b4b4b4">
<circle cx="367.7" cy="348.5" r="1.9"/><circle cx="364.7" cy="359.4" r="1.9"/><circle cx="373.6" cy="347.8" r="1.9"/>
</g>
<g fill="#1a1a1a">
<circle cx="327.7" cy="363.3" r="1.9"/><circle cx="325.1" cy="372.9" r="1.9"/>
</g>
<g fill="#b4b4b4">
<circle cx="369.0" cy="364.4" r="1.9"/>
</g>
<g fill="#1a1a1a">
<circle cx="328.6" cy="361.2" r="1.9"/>
</g>
<g fill="#b4b4b4">
<circle cx="375.5" cy="331.0" r="1.9"/>
</g>
<g fill="#1a1a1a">
<circle cx="326.3" cy="363.9" r="1.9"/>
</g>
<g fill="#b4b4b4">
<circle cx="377.1" cy="356.5" r="1.9"/><circle cx="367.1" cy="367.1" r="1.9"/><circle cx="372.9" cy="328.6" r="1.9"/><circle cx="425.6" cy="322.3" r="1.9"/>
</g>
<g fill="#1a1a1a">
<circle cx="324.1" cy="368.9" r="1.9"/><circle cx="321.9" cy="362.8" r="1.9"/><circle cx="314.5" cy="357.9" r="1.9"/><circle cx="319.5" cy="366.0" r="1.9"/><circle cx="316.0" cy="360.1" r="1.9"/><circle cx="313.7" cy="348.3" r="1.9"/><circle cx="323.0" cy="364.8" r="1.9"/>
</g>
<g fill="#b4b4b4">
<circle cx="381.5" cy="344.5" r="1.9"/><circle cx="367.1" cy="358.7" r="1.9"/><circle cx="367.8" cy="364.6" r="1.9"/><circle cx="374.4" cy="346.6" r="1.9"/><circle cx="374.8" cy="340.1" r="1.9"/>
</g>
<g fill="#1a1a1a">
<circle cx="320.9" cy="369.6" r="1.9"/><circle cx="324.9" cy="364.4" r="1.9"/><circle cx="319.5" cy="360.0" r="1.9"/>
</g>
<g fill="#b4b4b4">
<circle cx="374.8" cy="352.1" r="1.9"/><circle cx="374.8" cy="355.7" r="1.9"/>
</g>
<g fill="#1a1a1a">
<circle cx="327.0" cy="371.8" r="1.9"/><circle cx="329.7" cy="358.7" r="1.9"/><circle cx="313.0" cy="359.5" r="1.9"/><circle cx="313.2" cy="365.5" r="1.9"/><circle cx="331.2" cy="366.3" r="1.9"/>
</g>
<g fill="#b4b4b4">
<circle cx="369.7" cy="362.7" r="1.9"/>
</g>
<g fill="#1a1a1a">
<circle cx="317.4" cy="369.6" r="1.9"/><circle cx="325.7" cy="360.0" r="1.9"/><circle cx="324.4" cy="356.3" r="1.9"/>
</g>
<g fill="#b4b4b4">
<circle cx="363.2" cy="352.0" r="1.9"/>
</g>
<g fill="#1a1a1a">
<circle cx="321.4" cy="366.1" r="1.9"/><circle cx="323.2" cy="353.8" r="1.9"/>
</g>
<g fill="#b4b4b4">
<circle cx="377.8" cy="343.4" r="1.9"/><circle cx="378.6" cy="311.8" r="1.9"/>
</g>
<g fill="#1a1a1a">
<circle cx="322.3" cy="357.6" r="1.9"/><circle cx="313.4" cy="365.9" r="1.9"/>
</g>
<g fill="#b4b4b4">
<circle cx="381.1" cy="345.5" r="1.9"/>
</g>
<g fill="#1a1a1a">
<circle cx="325.6" cy="370.0" r="1.9"/>
</g>
<g fill="#b4b4b4">
<circle cx="375.8" cy="352.7" r="1.9"/>
</g>
<g fill="#1a1a1a">
<circle cx="311.4" cy="362.9" r="1.9"/><circle cx="325.2" cy="364.1" r="1.9"/>
</g>
<g fill="#b4b4b4">
<circle cx="371.3" cy="358.6" r="1.9"/>
</g>
<g fill="#1a1a1a">
<circle cx="344.7" cy="343.3" r="1.9"/><circle cx="322.2" cy="364.6" r="1.9"/>
</g>
<g fill="#b4b4b4">
<circle cx="368.1" cy="352.1" r="1.9"/><circle cx="367.6" cy="350.4" r="1.9"/><circle cx="373.8" cy="355.1" r="1.9"/>
</g>
<g fill="#1a1a1a">
<circle cx="319.6" cy="365.7" r="1.9"/><circle cx="327.2" cy="359.9" r="1.9"/>
</g>
<g fill="#b4b4b4">
<circle cx="392.1" cy="359.1" r="1.9"/><circle cx="366.0" cy="344.8" r="1.9"/>
</g>
<g fill="#1a1a1a">
<circle cx="326.3" cy="355.1" r="1.9"/>
</g>
<g fill="#b4b4b4">
<circle cx="362.3" cy="330.2" r="1.9"/><circle cx="373.9" cy="345.4" r="1.9"/><circle cx="351.8" cy="352.3" r="1.9"/>
</g>
<g fill="#1a1a1a">
<circle cx="320.4" cy="363.3" r="1.9"/>
</g>
<g fill="#b4b4b4">
<circle cx="381.8" cy="349.7" r="1.9"/><circle cx="361.0" cy="355.1" r="1.9"/>
</g>
<g fill="#1a1a1a">
<circle cx="317.4" cy="364.6" r="1.9"/>
</g>
<g fill="#b4b4b4">
<circle cx="371.7" cy="363.0" r="1.9"/><circle cx="361.6" cy="350.6" r="1.9"/>
</g>
<g fill="#1a1a1a">
<circle cx="321.5" cy="365.5" r="1.9"/>
</g>
<g fill="#b4b4b4">
<circle cx="374.8" cy="305.5" r="1.9"/><circle cx="352.6" cy="345.3" r="1.9"/>
</g>
<g fill="#1a1a1a">
<circle cx="334.9" cy="369.1" r="1.9"/>
</g>
<g fill="#b4b4b4">
<circle cx="363.2" cy="342.6" r="1.9"/><circle cx="378.2" cy="363.7" r="1.9"/>
</g>
<g fill="#1a1a1a">
<circle cx="313.5" cy="361.6" r="1.9"/><circle cx="321.8" cy="367.2" r="1.9"/>
</g>
<g fill="#b4b4b4">
<circle cx="364.8" cy="339.0" r="1.9"/>
</g>
<g fill="#1a1a1a">
<circle cx="331.6" cy="365.2" r="1.9"/><circle cx="329.4" cy="362.6" r="1.9"/>
</g>
<g fill="#b4b4b4">
<circle cx="369.0" cy="367.1" r="1.9"/><circle cx="371.1" cy="360.5" r="1.9"/>
</g>
<g fill="#1a1a1a">
<circle cx="323.7" cy="358.0" r="1.9"/><circle cx="317.8" cy="369.3" r="1.9"/>
</g>
<g fill="#b4b4b4">
<circle cx="372.0" cy="360.3" r="1.9"/><circle cx="370.9" cy="322.3" r="1.9"/><circle cx="378.0" cy="358.3" r="1.9"/>
</g>
<g fill="#1a1a1a">
<circle cx="326.2" cy="343.4" r="1.9"/><circle cx="332.4" cy="369.9" r="1.9"/><circle cx="334.2" cy="360.8" r="1.9"/>
</g>
<g fill="#b4b4b4">
<circle cx="359.9" cy="344.8" r="1.9"/><circle cx="375.5" cy="364.9" r="1.9"/>
</g>
<g fill="#1a1a1a">
<circle cx="327.3" cy="359.8" r="1.9"/>
</g>
<g fill="#b4b4b4">
<circle cx="383.9" cy="333.8" r="1.9"/><circle cx="376.8" cy="353.6" r="1.9"/>
</g>
<g fill="#1a1a1a">
<circle cx="325.2" cy="363.4" r="1.9"/><circle cx="325.1" cy="362.1" r="1.9"/><circle cx="334.1" cy="364.7" r="1.9"/>
</g>
<g fill="#b4b4b4">
<circle cx="374.8" cy="352.6" r="1.9"/><circle cx="368.2" cy="341.2" r="1.9"/><circle cx="370.4" cy="357.9" r="1.9"/>
</g>
<g fill="#1a1a1a">
<circle cx="317.0" cy="361.5" r="1.9"/>
</g>
<g fill="#b4b4b4">
<circle cx="374.8" cy="366.7" r="1.9"/>
</g>
<g fill="#1a1a1a">
<circle cx="316.4" cy="363.5" r="1.9"/><circle cx="318.4" cy="358.2" r="1.9"/><circle cx="331.9" cy="368.8" r="1.9"/><circle cx="319.9" cy="360.1" r="1.9"/><circle cx="318.6" cy="365.0" r="1.9"/>
</g>
<g fill="#b4b4b4">
<circle cx="402.5" cy="333.5" r="1.9"/>
</g>
<g fill="#1a1a1a">
<circle cx="323.8" cy="353.1" r="1.9"/>
</g>
<g fill="#b4b4b4">
<circle cx="370.9" cy="345.8" r="1.9"/>
</g>
<g fill="#1a1a1a">
<circle cx="327.9" cy="370.1" r="1.9"/><circle cx="315.1" cy="363.3" r="1.9"/><circle cx="330.3" cy="366.0" r="1.9"/><circle cx="332.4" cy="327.2" r="1.9"/><circle cx="311.2" cy="366.5" r="1.9"/><circle cx="326.1" cy="361.6" r="1.9"/>
</g>
<g fill="#b4b4b4">
<circle cx="382.2" cy="336.7" r="1.9"/>
</g>
<g fill="#1a1a1a">
<circle cx="321.9" cy="367.3" r="1.9"/><circle cx="325.1" cy="361.9" r="1.9"/>
</g>
<g fill="#b4b4b4">
<circle cx="361.7" cy="347.3" r="1.9"/><circle cx="359.7" cy="343.8" r="1.9"/><circle cx="355.5" cy="316.0" r="1.9"/><circle cx="378.4" cy="327.5" r="1.9"/>
</g>
<g fill="#1a1a1a">
<circle cx="323.0" cy="369.4" r="1.9"/><circle cx="320.2" cy="355.5" r="1.9"/><circle cx="313.2" cy="361.6" r="1.9"/><circle cx="312.0" cy="366.1" r="1.9"/><circle cx="320.2" cy="342.8" r="1.9"/><circle cx="327.0" cy="363.0" r="1.9"/><circle cx="317.0" cy="364.9" r="1.9"/>
</g>
<g fill="#b4b4b4">
<circle cx="368.8" cy="358.4" r="1.9"/><circle cx="373.1" cy="347.3" r="1.9"/><circle cx="378.6" cy="361.2" r="1.9"/><circle cx="366.6" cy="355.9" r="1.9"/>
</g>
<g fill="#1a1a1a">
<circle cx="320.3" cy="334.6" r="1.9"/>
</g>
<g fill="#b4b4b4">
<circle cx="377.4" cy="316.1" r="1.9"/>
</g>
<g fill="#1a1a1a">
<circle cx="333.2" cy="295.0" r="1.9"/><circle cx="326.7" cy="361.2" r="1.9"/><circle cx="325.1" cy="364.7" r="1.9"/><circle cx="319.8" cy="350.8" r="1.9"/>
</g>
<g fill="#b4b4b4">
<circle cx="367.1" cy="349.2" r="1.9"/>
</g>
<g fill="#1a1a1a">
<circle cx="317.4" cy="369.4" r="1.9"/><circle cx="318.6" cy="363.5" r="1.9"/><circle cx="317.6" cy="359.1" r="1.9"/><circle cx="310.6" cy="366.1" r="1.9"/>
</g>
<g fill="#b4b4b4">
<circle cx="365.0" cy="360.9" r="1.9"/>
</g>
<g fill="#1a1a1a">
<circle cx="331.7" cy="349.4" r="1.9"/><circle cx="320.3" cy="370.9" r="1.9"/><circle cx="324.7" cy="343.6" r="1.9"/><circle cx="324.0" cy="347.0" r="1.9"/><circle cx="317.8" cy="362.4" r="1.9"/><circle cx="320.4" cy="363.2" r="1.9"/><circle cx="328.3" cy="359.5" r="1.9"/>
</g>
<g fill="#b4b4b4">
<circle cx="362.7" cy="335.3" r="1.9"/><circle cx="371.1" cy="365.3" r="1.9"/>
</g>
<g fill="#1a1a1a">
<circle cx="320.1" cy="357.8" r="1.9"/>
</g>
<g fill="#b4b4b4">
<circle cx="363.6" cy="352.7" r="1.9"/>
</g>
<g fill="#1a1a1a">
<circle cx="322.4" cy="366.6" r="1.9"/>
</g>
<g fill="#b4b4b4">
<circle cx="391.9" cy="343.5" r="1.9"/>
</g>
<g fill="#1a1a1a">
<circle cx="318.2" cy="345.7" r="1.9"/>
</g>
<g fill="#b4b4b4">
<circle cx="373.4" cy="363.2" r="1.9"/>
</g>
<g fill="#1a1a1a">
<circle cx="322.1" cy="361.7" r="1.9"/><circle cx="319.4" cy="354.5" r="1.9"/><circle cx="327.4" cy="368.6" r="1.9"/><circle cx="329.0" cy="370.0" r="1.9"/>
</g>
<g fill="#b4b4b4">
<circle cx="370.9" cy="354.5" r="1.9"/><circle cx="377.1" cy="335.5" r="1.9"/>
</g>
<g fill="#1a1a1a">
<circle cx="318.3" cy="357.6" r="1.9"/><circle cx="323.3" cy="353.5" r="1.9"/>
</g>
<g fill="#b4b4b4">
<circle cx="365.3" cy="338.0" r="1.9"/>
</g>
<g fill="none" stroke="#2a2a2a" stroke-width="0.75">
<circle cx="382.1" cy="249.8" r="1.6"/><circle cx="353.4" cy="261.4" r="1.6"/><circle cx="350.9" cy="262.5" r="1.6"/><circle cx="348.8" cy="267.0" r="1.6"/><circle cx="349.3" cy="268.0" r="1.6"/><circle cx="370.5" cy="282.0" r="1.6"/><circle cx="350.0" cy="283.1" r="1.6"/><circle cx="376.9" cy="288.0" r="1.6"/><circle cx="361.3" cy="292.6" r="1.6"/><circle cx="367.4" cy="295.7" r="1.6"/><circle cx="373.6" cy="295.7" r="1.6"/><circle cx="375.9" cy="296.8" r="1.6"/><circle cx="370.9" cy="297.8" r="1.6"/><circle cx="385.0" cy="303.1" r="1.6"/><circle cx="369.7" cy="305.9" r="1.6"/><circle cx="377.4" cy="307.6" r="1.6"/><circle cx="375.9" cy="309.7" r="1.6"/><circle cx="371.9" cy="316.0" r="1.6"/><circle cx="370.9" cy="316.7" r="1.6"/><circle cx="350.0" cy="317.4" r="1.6"/><circle cx="370.5" cy="319.5" r="1.6"/><circle cx="360.9" cy="321.6" r="1.6"/><circle cx="362.8" cy="323.0" r="1.6"/><circle cx="366.7" cy="325.1" r="1.6"/><circle cx="369.7" cy="325.8" r="1.6"/><circle cx="381.3" cy="329.3" r="1.6"/><circle cx="362.4" cy="330.0" r="1.6"/><circle cx="365.9" cy="330.7" r="1.6"/><circle cx="367.1" cy="331.4" r="1.6"/><circle cx="369.7" cy="332.8" r="1.6"/><circle cx="373.6" cy="334.6" r="1.6"/><circle cx="296.2" cy="338.8" r="1.6"/>
</g>
<rect x="251.75" y="214.8" width="208.25" height="188.7" fill="none" stroke="#5c5c5c" stroke-width="1.15"/>
<line x1="259.25" y1="403.5" x2="259.25" y2="407.8" stroke="#444" stroke-width="1"/>
<text x="258.90" y="418.3" font-size="7" text-anchor="middle" letter-spacing="-0.7" fill="#000">0.0</text>
<line x1="297.75" y1="403.5" x2="297.75" y2="407.8" stroke="#444" stroke-width="1"/>
<text x="297.40" y="418.3" font-size="7" text-anchor="middle" letter-spacing="-0.7" fill="#000">0.1</text>
<line x1="336.25" y1="403.5" x2="336.25" y2="407.8" stroke="#444" stroke-width="1"/>
<text x="335.90" y="418.3" font-size="7" text-anchor="middle" letter-spacing="-0.7" fill="#000">0.2</text>
<line x1="374.75" y1="403.5" x2="374.75" y2="407.8" stroke="#444" stroke-width="1"/>
<text x="374.40" y="418.3" font-size="7" text-anchor="middle" letter-spacing="-0.7" fill="#000">0.3</text>
<line x1="413.25" y1="403.5" x2="413.25" y2="407.8" stroke="#444" stroke-width="1"/>
<text x="412.90" y="418.3" font-size="7" text-anchor="middle" letter-spacing="-0.7" fill="#000">0.4</text>
<line x1="451.75" y1="403.5" x2="451.75" y2="407.8" stroke="#444" stroke-width="1"/>
<text x="451.40" y="418.3" font-size="7" text-anchor="middle" letter-spacing="-0.7" fill="#000">0.5</text>
<line x1="247.15" y1="396.50" x2="251.75" y2="396.50" stroke="#444" stroke-width="1"/>
<text x="241.85" y="396.50" font-size="7" text-anchor="middle" letter-spacing="-0.7" fill="#000" transform="rotate(-90 242.2 396.50)">0</text>
<line x1="247.15" y1="361.50" x2="251.75" y2="361.50" stroke="#444" stroke-width="1"/>
<text x="241.85" y="361.50" font-size="7" text-anchor="middle" letter-spacing="-0.7" fill="#000" transform="rotate(-90 242.2 361.50)">10</text>
<line x1="247.15" y1="326.50" x2="251.75" y2="326.50" stroke="#444" stroke-width="1"/>
<text x="241.85" y="326.50" font-size="7" text-anchor="middle" letter-spacing="-0.7" fill="#000" transform="rotate(-90 242.2 326.50)">20</text>
<line x1="247.15" y1="291.50" x2="251.75" y2="291.50" stroke="#444" stroke-width="1"/>
<text x="241.85" y="291.50" font-size="7" text-anchor="middle" letter-spacing="-0.7" fill="#000" transform="rotate(-90 242.2 291.50)">30</text>
<line x1="247.15" y1="256.50" x2="251.75" y2="256.50" stroke="#444" stroke-width="1"/>
<text x="241.85" y="256.50" font-size="7" text-anchor="middle" letter-spacing="-0.7" fill="#000" transform="rotate(-90 242.2 256.50)">40</text>
<line x1="247.15" y1="221.50" x2="251.75" y2="221.50" stroke="#444" stroke-width="1"/>
<text x="241.85" y="221.50" font-size="7" text-anchor="middle" letter-spacing="-0.7" fill="#000" transform="rotate(-90 242.2 221.50)">50</text>
<text x="352.6" y="430.5" font-size="8" text-anchor="middle" textLength="50" lengthAdjust="spacingAndGlyphs" fill="#0a0a0a">Stroke rate (Hz)</text>
<text x="255" y="226.3" font-size="13" text-anchor="start" font-weight="bold" fill="#111">E</text>
<g fill="#b4b4b4">
<circle cx="573.0" cy="352.7" r="1.9"/><circle cx="597.9" cy="324.1" r="1.9"/>
</g>
<g fill="#1a1a1a">
<circle cx="538.2" cy="365.6" r="1.9"/><circle cx="550.0" cy="360.6" r="1.9"/><circle cx="529.9" cy="327.6" r="1.9"/>
</g>
<g fill="#b4b4b4">
<circle cx="639.6" cy="300.9" r="1.9"/><circle cx="561.9" cy="341.0" r="1.9"/><circle cx="635.6" cy="319.7" r="1.9"/><circle cx="575.2" cy="342.6" r="1.9"/>
</g>
<g fill="#1a1a1a">
<circle cx="540.8" cy="354.7" r="1.9"/><circle cx="545.6" cy="365.4" r="1.9"/>
</g>
<g fill="#b4b4b4">
<circle cx="571.0" cy="317.7" r="1.9"/>
</g>
<g fill="#1a1a1a">
<circle cx="536.5" cy="362.0" r="1.9"/>
</g>
<g fill="#b4b4b4">
<circle cx="572.8" cy="343.5" r="1.9"/><circle cx="578.7" cy="359.2" r="1.9"/><circle cx="590.5" cy="326.9" r="1.9"/><circle cx="563.2" cy="355.0" r="1.9"/><circle cx="612.2" cy="326.1" r="1.9"/><circle cx="560.1" cy="346.6" r="1.9"/>
</g>
<g fill="#1a1a1a">
<circle cx="537.3" cy="364.7" r="1.9"/><circle cx="541.8" cy="351.2" r="1.9"/><circle cx="532.7" cy="356.5" r="1.9"/>
</g>
<g fill="#b4b4b4">
<circle cx="587.2" cy="341.3" r="1.9"/><circle cx="581.7" cy="334.9" r="1.9"/><circle cx="595.5" cy="336.7" r="1.9"/>
</g>
<g fill="#1a1a1a">
<circle cx="541.4" cy="363.0" r="1.9"/><circle cx="537.2" cy="365.9" r="1.9"/><circle cx="539.1" cy="355.6" r="1.9"/>
</g>
<g fill="#b4b4b4">
<circle cx="576.8" cy="328.9" r="1.9"/><circle cx="588.1" cy="340.6" r="1.9"/><circle cx="588.0" cy="333.0" r="1.9"/>
</g>
<g fill="#1a1a1a">
<circle cx="545.3" cy="366.3" r="1.9"/>
</g>
<g fill="#b4b4b4">
<circle cx="589.1" cy="337.7" r="1.9"/>
</g>
<g fill="#1a1a1a">
<circle cx="535.3" cy="362.5" r="1.9"/>
</g>
<g fill="#b4b4b4">
<circle cx="566.0" cy="339.3" r="1.9"/>
</g>
<g fill="#1a1a1a">
<circle cx="533.5" cy="364.6" r="1.9"/><circle cx="538.9" cy="359.8" r="1.9"/><circle cx="540.3" cy="340.9" r="1.9"/><circle cx="535.7" cy="341.9" r="1.9"/>
</g>
<g fill="#b4b4b4">
<circle cx="587.1" cy="316.7" r="1.9"/><circle cx="576.8" cy="359.0" r="1.9"/><circle cx="563.0" cy="339.7" r="1.9"/>
</g>
<g fill="#1a1a1a">
<circle cx="538.0" cy="347.9" r="1.9"/><circle cx="536.2" cy="369.4" r="1.9"/><circle cx="552.0" cy="360.3" r="1.9"/>
</g>
<g fill="#b4b4b4">
<circle cx="564.7" cy="351.6" r="1.9"/><circle cx="554.6" cy="367.1" r="1.9"/>
</g>
<g fill="#1a1a1a">
<circle cx="526.4" cy="336.3" r="1.9"/>
</g>
<g fill="#b4b4b4">
<circle cx="564.8" cy="348.5" r="1.9"/><circle cx="584.6" cy="359.4" r="1.9"/><circle cx="563.1" cy="347.8" r="1.9"/>
</g>
<g fill="#1a1a1a">
<circle cx="524.8" cy="363.3" r="1.9"/><circle cx="540.9" cy="372.9" r="1.9"/>
</g>
<g fill="#b4b4b4">
<circle cx="555.0" cy="364.4" r="1.9"/>
</g>
<g fill="#1a1a1a">
<circle cx="546.3" cy="361.2" r="1.9"/>
</g>
<g fill="#b4b4b4">
<circle cx="578.9" cy="331.0" r="1.9"/>
</g>
<g fill="#1a1a1a">
<circle cx="537.1" cy="363.9" r="1.9"/>
</g>
<g fill="#b4b4b4">
<circle cx="609.9" cy="356.5" r="1.9"/><circle cx="558.7" cy="367.1" r="1.9"/><circle cx="557.3" cy="328.6" r="1.9"/><circle cx="612.4" cy="322.3" r="1.9"/>
</g>
<g fill="#1a1a1a">
<circle cx="537.9" cy="368.9" r="1.9"/><circle cx="549.2" cy="362.8" r="1.9"/><circle cx="536.3" cy="357.9" r="1.9"/><circle cx="541.5" cy="366.0" r="1.9"/><circle cx="532.2" cy="360.1" r="1.9"/><circle cx="538.9" cy="348.3" r="1.9"/><circle cx="540.0" cy="364.8" r="1.9"/>
</g>
<g fill="#b4b4b4">
<circle cx="558.2" cy="344.5" r="1.9"/><circle cx="638.9" cy="358.7" r="1.9"/><circle cx="562.2" cy="364.6" r="1.9"/><circle cx="584.4" cy="346.6" r="1.9"/><circle cx="634.4" cy="340.1" r="1.9"/>
</g>
<g fill="#1a1a1a">
<circle cx="540.7" cy="369.6" r="1.9"/><circle cx="554.6" cy="364.4" r="1.9"/><circle cx="545.6" cy="360.0" r="1.9"/>
</g>
<g fill="#b4b4b4">
<circle cx="639.7" cy="352.1" r="1.9"/><circle cx="556.8" cy="355.7" r="1.9"/>
</g>
<g fill="#1a1a1a">
<circle cx="538.9" cy="371.8" r="1.9"/><circle cx="525.3" cy="358.7" r="1.9"/><circle cx="537.7" cy="359.5" r="1.9"/><circle cx="539.3" cy="365.5" r="1.9"/><circle cx="526.5" cy="366.3" r="1.9"/>
</g>
<g fill="#b4b4b4">
<circle cx="563.6" cy="362.7" r="1.9"/>
</g>
<g fill="#1a1a1a">
<circle cx="529.1" cy="369.6" r="1.9"/><circle cx="536.4" cy="360.0" r="1.9"/><circle cx="548.4" cy="356.3" r="1.9"/>
</g>
<g fill="#b4b4b4">
<circle cx="567.7" cy="352.0" r="1.9"/>
</g>
<g fill="#1a1a1a">
<circle cx="542.4" cy="366.1" r="1.9"/><circle cx="526.6" cy="353.8" r="1.9"/>
</g>
<g fill="#b4b4b4">
<circle cx="553.7" cy="343.4" r="1.9"/><circle cx="609.4" cy="311.8" r="1.9"/>
</g>
<g fill="#1a1a1a">
<circle cx="534.2" cy="357.6" r="1.9"/><circle cx="542.7" cy="365.9" r="1.9"/>
</g>
<g fill="#b4b4b4">
<circle cx="559.2" cy="345.5" r="1.9"/>
</g>
<g fill="#1a1a1a">
<circle cx="535.9" cy="370.0" r="1.9"/>
</g>
<g fill="#b4b4b4">
<circle cx="563.6" cy="352.7" r="1.9"/>
</g>
<g fill="#1a1a1a">
<circle cx="543.8" cy="362.9" r="1.9"/><circle cx="528.3" cy="364.1" r="1.9"/>
</g>
<g fill="#b4b4b4">
<circle cx="581.2" cy="358.6" r="1.9"/>
</g>
<g fill="#1a1a1a">
<circle cx="549.6" cy="343.3" r="1.9"/><circle cx="533.8" cy="364.6" r="1.9"/>
</g>
<g fill="#b4b4b4">
<circle cx="558.5" cy="352.1" r="1.9"/><circle cx="556.3" cy="350.4" r="1.9"/><circle cx="560.7" cy="355.1" r="1.9"/>
</g>
<g fill="#1a1a1a">
<circle cx="534.6" cy="365.7" r="1.9"/><circle cx="534.2" cy="359.9" r="1.9"/>
</g>
<g fill="#b4b4b4">
<circle cx="557.6" cy="359.1" r="1.9"/><circle cx="632.5" cy="344.8" r="1.9"/>
</g>
<g fill="#1a1a1a">
<circle cx="528.8" cy="355.1" r="1.9"/>
</g>
<g fill="#b4b4b4">
<circle cx="593.1" cy="330.2" r="1.9"/><circle cx="568.5" cy="345.4" r="1.9"/><circle cx="574.8" cy="352.3" r="1.9"/>
</g>
<g fill="#1a1a1a">
<circle cx="537.2" cy="363.3" r="1.9"/>
</g>
<g fill="#b4b4b4">
<circle cx="569.7" cy="349.7" r="1.9"/><circle cx="564.4" cy="355.1" r="1.9"/>
</g>
<g fill="#1a1a1a">
<circle cx="537.0" cy="364.6" r="1.9"/>
</g>
<g fill="#b4b4b4">
<circle cx="584.1" cy="363.0" r="1.9"/><circle cx="564.5" cy="350.6" r="1.9"/>
</g>
<g fill="#1a1a1a">
<circle cx="533.7" cy="365.5" r="1.9"/>
</g>
<g fill="#b4b4b4">
<circle cx="602.9" cy="305.5" r="1.9"/><circle cx="560.9" cy="345.3" r="1.9"/>
</g>
<g fill="#1a1a1a">
<circle cx="527.1" cy="369.1" r="1.9"/>
</g>
<g fill="#b4b4b4">
<circle cx="641.2" cy="342.6" r="1.9"/><circle cx="561.7" cy="363.7" r="1.9"/>
</g>
<g fill="#1a1a1a">
<circle cx="541.5" cy="361.6" r="1.9"/><circle cx="532.3" cy="367.2" r="1.9"/>
</g>
<g fill="#b4b4b4">
<circle cx="566.3" cy="339.0" r="1.9"/>
</g>
<g fill="#1a1a1a">
<circle cx="552.1" cy="365.2" r="1.9"/><circle cx="526.6" cy="362.6" r="1.9"/>
</g>
<g fill="#b4b4b4">
<circle cx="560.1" cy="367.1" r="1.9"/><circle cx="563.3" cy="360.5" r="1.9"/>
</g>
<g fill="#1a1a1a">
<circle cx="546.0" cy="358.0" r="1.9"/><circle cx="550.4" cy="369.3" r="1.9"/>
</g>
<g fill="#b4b4b4">
<circle cx="591.3" cy="360.3" r="1.9"/><circle cx="628.1" cy="322.3" r="1.9"/><circle cx="558.3" cy="358.3" r="1.9"/>
</g>
<g fill="#1a1a1a">
<circle cx="543.7" cy="343.4" r="1.9"/><circle cx="541.8" cy="369.9" r="1.9"/><circle cx="526.4" cy="360.8" r="1.9"/>
</g>
<g fill="#b4b4b4">
<circle cx="582.2" cy="344.8" r="1.9"/><circle cx="582.8" cy="364.9" r="1.9"/>
</g>
<g fill="#1a1a1a">
<circle cx="536.6" cy="359.8" r="1.9"/>
</g>
<g fill="#b4b4b4">
<circle cx="619.4" cy="333.8" r="1.9"/><circle cx="554.9" cy="353.6" r="1.9"/>
</g>
<g fill="#1a1a1a">
<circle cx="540.7" cy="363.4" r="1.9"/><circle cx="547.7" cy="362.1" r="1.9"/><circle cx="551.0" cy="364.7" r="1.9"/>
</g>
<g fill="#b4b4b4">
<circle cx="576.9" cy="352.6" r="1.9"/><circle cx="635.6" cy="341.2" r="1.9"/><circle cx="565.7" cy="357.9" r="1.9"/>
</g>
<g fill="#1a1a1a">
<circle cx="526.9" cy="361.5" r="1.9"/>
</g>
<g fill="#b4b4b4">
<circle cx="576.5" cy="366.7" r="1.9"/>
</g>
<g fill="#1a1a1a">
<circle cx="534.5" cy="363.5" r="1.9"/><circle cx="533.9" cy="358.2" r="1.9"/><circle cx="542.1" cy="368.8" r="1.9"/><circle cx="542.2" cy="360.1" r="1.9"/><circle cx="533.4" cy="365.0" r="1.9"/>
</g>
<g fill="#b4b4b4">
<circle cx="596.1" cy="333.5" r="1.9"/>
</g>
<g fill="#1a1a1a">
<circle cx="541.3" cy="353.1" r="1.9"/>
</g>
<g fill="#b4b4b4">
<circle cx="636.6" cy="345.8" r="1.9"/>
</g>
<g fill="#1a1a1a">
<circle cx="541.0" cy="370.1" r="1.9"/><circle cx="548.9" cy="363.3" r="1.9"/><circle cx="536.5" cy="366.0" r="1.9"/><circle cx="546.1" cy="327.2" r="1.9"/><circle cx="545.4" cy="366.5" r="1.9"/><circle cx="529.9" cy="361.6" r="1.9"/>
</g>
<g fill="#b4b4b4">
<circle cx="565.1" cy="336.7" r="1.9"/>
</g>
<g fill="#1a1a1a">
<circle cx="551.4" cy="367.3" r="1.9"/><circle cx="537.4" cy="361.9" r="1.9"/>
</g>
<g fill="#b4b4b4">
<circle cx="567.4" cy="347.3" r="1.9"/><circle cx="569.1" cy="343.8" r="1.9"/><circle cx="617.7" cy="316.0" r="1.9"/><circle cx="564.8" cy="327.5" r="1.9"/>
</g>
<g fill="#1a1a1a">
<circle cx="539.7" cy="369.4" r="1.9"/><circle cx="540.9" cy="355.5" r="1.9"/><circle cx="535.2" cy="361.6" r="1.9"/><circle cx="542.4" cy="366.1" r="1.9"/><circle cx="534.7" cy="342.8" r="1.9"/><circle cx="537.7" cy="363.0" r="1.9"/><circle cx="535.6" cy="364.9" r="1.9"/>
</g>
<g fill="#b4b4b4">
<circle cx="570.5" cy="358.4" r="1.9"/><circle cx="588.1" cy="347.3" r="1.9"/><circle cx="553.0" cy="361.2" r="1.9"/><circle cx="556.2" cy="355.9" r="1.9"/>
</g>
<g fill="#1a1a1a">
<circle cx="531.0" cy="334.6" r="1.9"/>
</g>
<g fill="#b4b4b4">
<circle cx="574.9" cy="316.1" r="1.9"/>
</g>
<g fill="#1a1a1a">
<circle cx="538.0" cy="295.0" r="1.9"/><circle cx="528.3" cy="361.2" r="1.9"/><circle cx="539.1" cy="364.7" r="1.9"/><circle cx="545.2" cy="350.8" r="1.9"/>
</g>
<g fill="#b4b4b4">
<circle cx="638.0" cy="349.2" r="1.9"/>
</g>
<g fill="#1a1a1a">
<circle cx="540.0" cy="369.4" r="1.9"/><circle cx="532.3" cy="363.5" r="1.9"/><circle cx="534.8" cy="359.1" r="1.9"/><circle cx="523.5" cy="366.1" r="1.9"/>
</g>
<g fill="#b4b4b4">
<circle cx="555.3" cy="360.9" r="1.9"/>
</g>
<g fill="#1a1a1a">
<circle cx="535.9" cy="349.4" r="1.9"/><circle cx="541.4" cy="370.9" r="1.9"/><circle cx="533.4" cy="343.6" r="1.9"/><circle cx="533.9" cy="347.0" r="1.9"/><circle cx="550.3" cy="362.4" r="1.9"/><circle cx="543.5" cy="363.2" r="1.9"/><circle cx="548.0" cy="359.5" r="1.9"/>
</g>
<g fill="#b4b4b4">
<circle cx="576.9" cy="335.3" r="1.9"/><circle cx="561.3" cy="365.3" r="1.9"/>
</g>
<g fill="#1a1a1a">
<circle cx="541.3" cy="357.8" r="1.9"/>
</g>
<g fill="#b4b4b4">
<circle cx="587.2" cy="352.7" r="1.9"/>
</g>
<g fill="#1a1a1a">
<circle cx="540.4" cy="366.6" r="1.9"/>
</g>
<g fill="#b4b4b4">
<circle cx="563.7" cy="343.5" r="1.9"/>
</g>
<g fill="#1a1a1a">
<circle cx="537.7" cy="345.7" r="1.9"/>
</g>
<g fill="#b4b4b4">
<circle cx="589.3" cy="363.2" r="1.9"/>
</g>
<g fill="#1a1a1a">
<circle cx="532.2" cy="361.7" r="1.9"/><circle cx="542.7" cy="354.5" r="1.9"/><circle cx="537.9" cy="368.6" r="1.9"/><circle cx="543.8" cy="370.0" r="1.9"/>
</g>
<g fill="#b4b4b4">
<circle cx="650.5" cy="354.5" r="1.9"/><circle cx="591.4" cy="335.5" r="1.9"/>
</g>
<g fill="#1a1a1a">
<circle cx="541.4" cy="357.6" r="1.9"/><circle cx="531.8" cy="353.5" r="1.9"/>
</g>
<g fill="#b4b4b4">
<circle cx="607.7" cy="338.0" r="1.9"/>
</g>
<g fill="none" stroke="#2a2a2a" stroke-width="0.75">
<circle cx="576.6" cy="249.8" r="1.6"/><circle cx="564.7" cy="261.4" r="1.6"/><circle cx="556.8" cy="262.5" r="1.6"/><circle cx="556.8" cy="267.0" r="1.6"/><circle cx="560.1" cy="268.0" r="1.6"/><circle cx="550.6" cy="277.5" r="1.6"/><circle cx="549.2" cy="282.0" r="1.6"/><circle cx="574.0" cy="283.1" r="1.6"/><circle cx="540.6" cy="288.0" r="1.6"/><circle cx="535.7" cy="292.6" r="1.6"/><circle cx="562.4" cy="295.7" r="1.6"/><circle cx="550.6" cy="295.7" r="1.6"/><circle cx="564.7" cy="296.8" r="1.6"/><circle cx="631.0" cy="297.8" r="1.6"/><circle cx="535.0" cy="303.1" r="1.6"/><circle cx="565.7" cy="305.9" r="1.6"/><circle cx="553.8" cy="307.6" r="1.6"/><circle cx="545.9" cy="309.7" r="1.6"/><circle cx="565.2" cy="316.0" r="1.6"/><circle cx="566.2" cy="316.7" r="1.6"/><circle cx="552.9" cy="317.4" r="1.6"/><circle cx="570.0" cy="319.5" r="1.6"/><circle cx="584.0" cy="321.6" r="1.6"/><circle cx="567.2" cy="323.0" r="1.6"/><circle cx="556.8" cy="325.1" r="1.6"/><circle cx="559.4" cy="325.8" r="1.6"/><circle cx="560.0" cy="329.3" r="1.6"/><circle cx="555.2" cy="330.0" r="1.6"/><circle cx="549.1" cy="330.7" r="1.6"/><circle cx="554.3" cy="331.4" r="1.6"/><circle cx="559.4" cy="332.8" r="1.6"/><circle cx="570.9" cy="334.6" r="1.6"/><circle cx="541.3" cy="338.8" r="1.6"/>
</g>
<rect x="484.5" y="214.8" width="199.89999999999998" height="188.7" fill="none" stroke="#5c5c5c" stroke-width="1.15"/>
<line x1="491.50" y1="403.5" x2="491.50" y2="407.8" stroke="#444" stroke-width="1"/>
<text x="491.15" y="418.3" font-size="7" text-anchor="middle" letter-spacing="-0.7" fill="#000">0.0</text>
<line x1="538.00" y1="403.5" x2="538.00" y2="407.8" stroke="#444" stroke-width="1"/>
<text x="537.65" y="418.3" font-size="7" text-anchor="middle" letter-spacing="-0.7" fill="#000">0.2</text>
<line x1="584.50" y1="403.5" x2="584.50" y2="407.8" stroke="#444" stroke-width="1"/>
<text x="584.15" y="418.3" font-size="7" text-anchor="middle" letter-spacing="-0.7" fill="#000">0.4</text>
<line x1="631.00" y1="403.5" x2="631.00" y2="407.8" stroke="#444" stroke-width="1"/>
<text x="630.65" y="418.3" font-size="7" text-anchor="middle" letter-spacing="-0.7" fill="#000">0.6</text>
<line x1="677.50" y1="403.5" x2="677.50" y2="407.8" stroke="#444" stroke-width="1"/>
<text x="677.15" y="418.3" font-size="7" text-anchor="middle" letter-spacing="-0.7" fill="#000">0.8</text>
<line x1="479.9" y1="396.50" x2="484.5" y2="396.50" stroke="#444" stroke-width="1"/>
<text x="474.65" y="396.50" font-size="7" text-anchor="middle" letter-spacing="-0.7" fill="#000" transform="rotate(-90 475 396.50)">0</text>
<line x1="479.9" y1="361.50" x2="484.5" y2="361.50" stroke="#444" stroke-width="1"/>
<text x="474.65" y="361.50" font-size="7" text-anchor="middle" letter-spacing="-0.7" fill="#000" transform="rotate(-90 475 361.50)">10</text>
<line x1="479.9" y1="326.50" x2="484.5" y2="326.50" stroke="#444" stroke-width="1"/>
<text x="474.65" y="326.50" font-size="7" text-anchor="middle" letter-spacing="-0.7" fill="#000" transform="rotate(-90 475 326.50)">20</text>
<line x1="479.9" y1="291.50" x2="484.5" y2="291.50" stroke="#444" stroke-width="1"/>
<text x="474.65" y="291.50" font-size="7" text-anchor="middle" letter-spacing="-0.7" fill="#000" transform="rotate(-90 475 291.50)">30</text>
<line x1="479.9" y1="256.50" x2="484.5" y2="256.50" stroke="#444" stroke-width="1"/>
<text x="474.65" y="256.50" font-size="7" text-anchor="middle" letter-spacing="-0.7" fill="#000" transform="rotate(-90 475 256.50)">40</text>
<line x1="479.9" y1="221.50" x2="484.5" y2="221.50" stroke="#444" stroke-width="1"/>
<text x="474.65" y="221.50" font-size="7" text-anchor="middle" letter-spacing="-0.7" fill="#000" transform="rotate(-90 475 221.50)">50</text>
<text x="581" y="430.5" font-size="8" text-anchor="middle" textLength="60" lengthAdjust="spacingAndGlyphs" fill="#0a0a0a">Average VeDBA (g)</text>
<text x="488.4" y="226.3" font-size="13" text-anchor="start" font-weight="bold" fill="#111">F</text>
<text transform="translate(8.1 193.4) rotate(-90)" font-size="8.4" fill="#2b2b2b" textLength="110.8" lengthAdjust="spacingAndGlyphs">Total oxygen consumption</text>
<text transform="translate(8.3 79.2) rotate(-90)" font-size="7.6" fill="#2b2b2b" textLength="39.2" lengthAdjust="spacingAndGlyphs">(ml O<tspan font-size="5" dy="1.2">2</tspan><tspan dy="-1.2"> kg</tspan><tspan font-size="5" dy="-3.6">−1</tspan><tspan dy="3.6">)</tspan></text>
<text transform="translate(8.1 395.6) rotate(-90)" font-size="8.4" fill="#2b2b2b" textLength="88.4" lengthAdjust="spacingAndGlyphs">Active metabolic rate</text>
<text transform="translate(8.3 301.4) rotate(-90)" font-size="7.6" fill="#2b2b2b" textLength="60.2" lengthAdjust="spacingAndGlyphs">(ml O<tspan font-size="5" dy="1.2">2</tspan><tspan dy="-1.2"> min</tspan><tspan font-size="5" dy="-3.6">−1</tspan><tspan dy="3.6"> kg</tspan><tspan font-size="5" dy="-3.6">−1</tspan><tspan dy="3.6">)</tspan></text>
</svg>
</body></html>
